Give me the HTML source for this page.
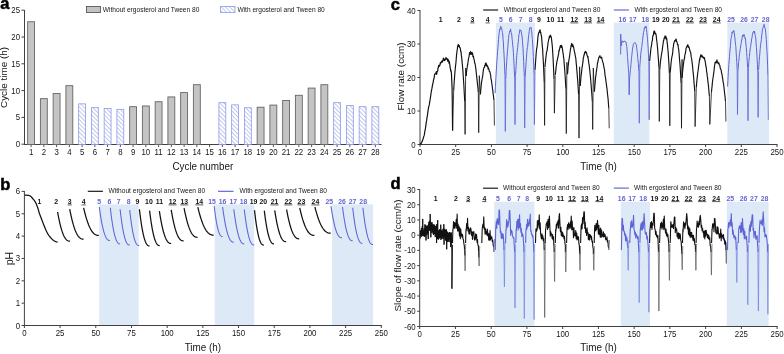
<!DOCTYPE html>
<html><head><meta charset="utf-8"><style>
html,body{margin:0;padding:0;background:#fff;}
svg{display:block;filter:blur(0.3px);}
text{font-family:"Liberation Sans",sans-serif;}
</style></head><body>
<svg width="784" height="354" viewBox="0 0 784 354">
<rect width="784" height="354" fill="#fff"/>
<text x="0.3" y="9.2" font-size="16.5" text-anchor="start" fill="#000" font-weight="bold" stroke="#000" stroke-width="0.5">a</text>
<text x="0.2" y="189.6" font-size="16.5" text-anchor="start" fill="#000" font-weight="bold" stroke="#000" stroke-width="0.5">b</text>
<text x="390.8" y="9.6" font-size="16.5" text-anchor="start" fill="#000" font-weight="bold" stroke="#000" stroke-width="0.5">c</text>
<text x="390.6" y="188.8" font-size="16.5" text-anchor="start" fill="#000" font-weight="bold" stroke="#000" stroke-width="0.5">d</text>
<line x1="24.5" y1="10" x2="24.5" y2="145" stroke="#404040" stroke-width="1"/>
<line x1="24" y1="144.5" x2="381.5" y2="144.5" stroke="#404040" stroke-width="1"/>
<line x1="21.5" y1="144.2" x2="24.5" y2="144.2" stroke="#404040" stroke-width="1"/>
<text transform="translate(20,147.2) scale(0.9,1.0)" font-size="8.7" text-anchor="end" fill="#151515" font-weight="normal" >0</text>
<line x1="21.5" y1="117.4" x2="24.5" y2="117.4" stroke="#404040" stroke-width="1"/>
<text transform="translate(20,120.4) scale(0.9,1.0)" font-size="8.7" text-anchor="end" fill="#151515" font-weight="normal" >5</text>
<line x1="21.5" y1="90.6" x2="24.5" y2="90.6" stroke="#404040" stroke-width="1"/>
<text transform="translate(20,93.6) scale(0.9,1.0)" font-size="8.7" text-anchor="end" fill="#151515" font-weight="normal" >10</text>
<line x1="21.5" y1="63.8" x2="24.5" y2="63.8" stroke="#404040" stroke-width="1"/>
<text transform="translate(20,66.8) scale(0.9,1.0)" font-size="8.7" text-anchor="end" fill="#151515" font-weight="normal" >15</text>
<line x1="21.5" y1="37" x2="24.5" y2="37" stroke="#404040" stroke-width="1"/>
<text transform="translate(20,40) scale(0.9,1.0)" font-size="8.7" text-anchor="end" fill="#151515" font-weight="normal" >20</text>
<line x1="21.5" y1="10.2" x2="24.5" y2="10.2" stroke="#404040" stroke-width="1"/>
<text transform="translate(20,13.2) scale(0.9,1.0)" font-size="8.7" text-anchor="end" fill="#151515" font-weight="normal" >25</text>
<defs><pattern id="hatch" patternUnits="userSpaceOnUse" width="3" height="3" patternTransform="rotate(45)"><rect width="3" height="3" fill="#fff"/><line x1="0" y1="1.5" x2="3" y2="1.5" stroke="#8c98e0" stroke-width="0.55"/></pattern></defs>
<line x1="31.1" y1="144.5" x2="31.1" y2="147.1" stroke="#555" stroke-width="1"/>
<text transform="translate(31.1,155.1) scale(0.9,1.0)" font-size="8.7" text-anchor="middle" fill="#151515" font-weight="normal" >1</text>
<rect x="27.65" y="21.72" width="6.9" height="122.78" fill="#c4c4c4" stroke="#666" stroke-width="0.9"/>
<line x1="43.85" y1="144.5" x2="43.85" y2="147.1" stroke="#555" stroke-width="1"/>
<text transform="translate(43.85,155.1) scale(0.9,1.0)" font-size="8.7" text-anchor="middle" fill="#151515" font-weight="normal" >2</text>
<rect x="40.4" y="98.64" width="6.9" height="45.86" fill="#c4c4c4" stroke="#666" stroke-width="0.9"/>
<line x1="56.6" y1="144.5" x2="56.6" y2="147.1" stroke="#555" stroke-width="1"/>
<text transform="translate(56.6,155.1) scale(0.9,1.0)" font-size="8.7" text-anchor="middle" fill="#151515" font-weight="normal" >3</text>
<rect x="53.15" y="93.54" width="6.9" height="50.96" fill="#c4c4c4" stroke="#666" stroke-width="0.9"/>
<line x1="69.35" y1="144.5" x2="69.35" y2="147.1" stroke="#555" stroke-width="1"/>
<text transform="translate(69.35,155.1) scale(0.9,1.0)" font-size="8.7" text-anchor="middle" fill="#151515" font-weight="normal" >4</text>
<rect x="65.9" y="85.66" width="6.9" height="58.84" fill="#c4c4c4" stroke="#666" stroke-width="0.9"/>
<line x1="82.1" y1="144.5" x2="82.1" y2="147.1" stroke="#555" stroke-width="1"/>
<text transform="translate(82.1,155.1) scale(0.9,1.0)" font-size="8.7" text-anchor="middle" fill="#151515" font-weight="normal" >5</text>
<rect x="78.65" y="103.84" width="6.9" height="40.66" fill="url(#hatch)" stroke="#8e9ae6" stroke-width="0.8"/>
<line x1="94.85" y1="144.5" x2="94.85" y2="147.1" stroke="#555" stroke-width="1"/>
<text transform="translate(94.85,155.1) scale(0.9,1.0)" font-size="8.7" text-anchor="middle" fill="#151515" font-weight="normal" >6</text>
<rect x="91.4" y="107.64" width="6.9" height="36.86" fill="url(#hatch)" stroke="#8e9ae6" stroke-width="0.8"/>
<line x1="107.6" y1="144.5" x2="107.6" y2="147.1" stroke="#555" stroke-width="1"/>
<text transform="translate(107.6,155.1) scale(0.9,1.0)" font-size="8.7" text-anchor="middle" fill="#151515" font-weight="normal" >7</text>
<rect x="104.15" y="108.55" width="6.9" height="35.95" fill="url(#hatch)" stroke="#8e9ae6" stroke-width="0.8"/>
<line x1="120.35" y1="144.5" x2="120.35" y2="147.1" stroke="#555" stroke-width="1"/>
<text transform="translate(120.35,155.1) scale(0.9,1.0)" font-size="8.7" text-anchor="middle" fill="#151515" font-weight="normal" >8</text>
<rect x="116.9" y="109.36" width="6.9" height="35.14" fill="url(#hatch)" stroke="#8e9ae6" stroke-width="0.8"/>
<line x1="133.1" y1="144.5" x2="133.1" y2="147.1" stroke="#555" stroke-width="1"/>
<text transform="translate(133.1,155.1) scale(0.9,1.0)" font-size="8.7" text-anchor="middle" fill="#151515" font-weight="normal" >9</text>
<rect x="129.65" y="106.68" width="6.9" height="37.82" fill="#c4c4c4" stroke="#666" stroke-width="0.9"/>
<line x1="145.85" y1="144.5" x2="145.85" y2="147.1" stroke="#555" stroke-width="1"/>
<text transform="translate(145.85,155.1) scale(0.9,1.0)" font-size="8.7" text-anchor="middle" fill="#151515" font-weight="normal" >10</text>
<rect x="142.4" y="105.98" width="6.9" height="38.52" fill="#c4c4c4" stroke="#666" stroke-width="0.9"/>
<line x1="158.6" y1="144.5" x2="158.6" y2="147.1" stroke="#555" stroke-width="1"/>
<text transform="translate(158.6,155.1) scale(0.9,1.0)" font-size="8.7" text-anchor="middle" fill="#151515" font-weight="normal" >11</text>
<rect x="155.15" y="101.74" width="6.9" height="42.76" fill="#c4c4c4" stroke="#666" stroke-width="0.9"/>
<line x1="171.35" y1="144.5" x2="171.35" y2="147.1" stroke="#555" stroke-width="1"/>
<text transform="translate(171.35,155.1) scale(0.9,1.0)" font-size="8.7" text-anchor="middle" fill="#151515" font-weight="normal" >12</text>
<rect x="167.9" y="96.92" width="6.9" height="47.58" fill="#c4c4c4" stroke="#666" stroke-width="0.9"/>
<line x1="184.1" y1="144.5" x2="184.1" y2="147.1" stroke="#555" stroke-width="1"/>
<text transform="translate(184.1,155.1) scale(0.9,1.0)" font-size="8.7" text-anchor="middle" fill="#151515" font-weight="normal" >13</text>
<rect x="180.65" y="92.58" width="6.9" height="51.92" fill="#c4c4c4" stroke="#666" stroke-width="0.9"/>
<line x1="196.85" y1="144.5" x2="196.85" y2="147.1" stroke="#555" stroke-width="1"/>
<text transform="translate(196.85,155.1) scale(0.9,1.0)" font-size="8.7" text-anchor="middle" fill="#151515" font-weight="normal" >14</text>
<rect x="193.4" y="84.7" width="6.9" height="59.8" fill="#c4c4c4" stroke="#666" stroke-width="0.9"/>
<line x1="209.6" y1="144.5" x2="209.6" y2="147.1" stroke="#555" stroke-width="1"/>
<text transform="translate(209.6,155.1) scale(0.9,1.0)" font-size="8.7" text-anchor="middle" fill="#151515" font-weight="normal" >15</text>
<line x1="222.35" y1="144.5" x2="222.35" y2="147.1" stroke="#555" stroke-width="1"/>
<text transform="translate(222.35,155.1) scale(0.9,1.0)" font-size="8.7" text-anchor="middle" fill="#151515" font-weight="normal" >16</text>
<rect x="218.9" y="102.66" width="6.9" height="41.84" fill="url(#hatch)" stroke="#8e9ae6" stroke-width="0.8"/>
<line x1="235.1" y1="144.5" x2="235.1" y2="147.1" stroke="#555" stroke-width="1"/>
<text transform="translate(235.1,155.1) scale(0.9,1.0)" font-size="8.7" text-anchor="middle" fill="#151515" font-weight="normal" >17</text>
<rect x="231.65" y="104.85" width="6.9" height="39.65" fill="url(#hatch)" stroke="#8e9ae6" stroke-width="0.8"/>
<line x1="247.85" y1="144.5" x2="247.85" y2="147.1" stroke="#555" stroke-width="1"/>
<text transform="translate(247.85,155.1) scale(0.9,1.0)" font-size="8.7" text-anchor="middle" fill="#151515" font-weight="normal" >18</text>
<rect x="244.4" y="107.75" width="6.9" height="36.75" fill="url(#hatch)" stroke="#8e9ae6" stroke-width="0.8"/>
<line x1="260.6" y1="144.5" x2="260.6" y2="147.1" stroke="#555" stroke-width="1"/>
<text transform="translate(260.6,155.1) scale(0.9,1.0)" font-size="8.7" text-anchor="middle" fill="#151515" font-weight="normal" >19</text>
<rect x="257.15" y="107.21" width="6.9" height="37.29" fill="#c4c4c4" stroke="#666" stroke-width="0.9"/>
<line x1="273.35" y1="144.5" x2="273.35" y2="147.1" stroke="#555" stroke-width="1"/>
<text transform="translate(273.35,155.1) scale(0.9,1.0)" font-size="8.7" text-anchor="middle" fill="#151515" font-weight="normal" >20</text>
<rect x="269.9" y="105.07" width="6.9" height="39.43" fill="#c4c4c4" stroke="#666" stroke-width="0.9"/>
<line x1="286.1" y1="144.5" x2="286.1" y2="147.1" stroke="#555" stroke-width="1"/>
<text transform="translate(286.1,155.1) scale(0.9,1.0)" font-size="8.7" text-anchor="middle" fill="#151515" font-weight="normal" >21</text>
<rect x="282.65" y="100.51" width="6.9" height="43.99" fill="#c4c4c4" stroke="#666" stroke-width="0.9"/>
<line x1="298.85" y1="144.5" x2="298.85" y2="147.1" stroke="#555" stroke-width="1"/>
<text transform="translate(298.85,155.1) scale(0.9,1.0)" font-size="8.7" text-anchor="middle" fill="#151515" font-weight="normal" >22</text>
<rect x="295.4" y="95.31" width="6.9" height="49.19" fill="#c4c4c4" stroke="#666" stroke-width="0.9"/>
<line x1="311.6" y1="144.5" x2="311.6" y2="147.1" stroke="#555" stroke-width="1"/>
<text transform="translate(311.6,155.1) scale(0.9,1.0)" font-size="8.7" text-anchor="middle" fill="#151515" font-weight="normal" >23</text>
<rect x="308.15" y="88.08" width="6.9" height="56.42" fill="#c4c4c4" stroke="#666" stroke-width="0.9"/>
<line x1="324.35" y1="144.5" x2="324.35" y2="147.1" stroke="#555" stroke-width="1"/>
<text transform="translate(324.35,155.1) scale(0.9,1.0)" font-size="8.7" text-anchor="middle" fill="#151515" font-weight="normal" >24</text>
<rect x="320.9" y="84.7" width="6.9" height="59.8" fill="#c4c4c4" stroke="#666" stroke-width="0.9"/>
<line x1="337.1" y1="144.5" x2="337.1" y2="147.1" stroke="#555" stroke-width="1"/>
<text transform="translate(337.1,155.1) scale(0.9,1.0)" font-size="8.7" text-anchor="middle" fill="#151515" font-weight="normal" >25</text>
<rect x="333.65" y="102.66" width="6.9" height="41.84" fill="url(#hatch)" stroke="#8e9ae6" stroke-width="0.8"/>
<line x1="349.85" y1="144.5" x2="349.85" y2="147.1" stroke="#555" stroke-width="1"/>
<text transform="translate(349.85,155.1) scale(0.9,1.0)" font-size="8.7" text-anchor="middle" fill="#151515" font-weight="normal" >26</text>
<rect x="346.4" y="105.6" width="6.9" height="38.9" fill="url(#hatch)" stroke="#8e9ae6" stroke-width="0.8"/>
<line x1="362.6" y1="144.5" x2="362.6" y2="147.1" stroke="#555" stroke-width="1"/>
<text transform="translate(362.6,155.1) scale(0.9,1.0)" font-size="8.7" text-anchor="middle" fill="#151515" font-weight="normal" >27</text>
<rect x="359.15" y="106.68" width="6.9" height="37.82" fill="url(#hatch)" stroke="#8e9ae6" stroke-width="0.8"/>
<line x1="375.35" y1="144.5" x2="375.35" y2="147.1" stroke="#555" stroke-width="1"/>
<text transform="translate(375.35,155.1) scale(0.9,1.0)" font-size="8.7" text-anchor="middle" fill="#151515" font-weight="normal" >28</text>
<rect x="371.9" y="106.68" width="6.9" height="37.82" fill="url(#hatch)" stroke="#8e9ae6" stroke-width="0.8"/>
<text transform="translate(202.9,169.8) scale(1.0,1.12)" font-size="9.9" text-anchor="middle" fill="#151515" font-weight="normal" >Cycle number</text>
<text transform="translate(6.9,77.5) rotate(-90)" font-size="9.9" text-anchor="middle" fill="#151515">Cycle time (h)</text>
<rect x="86.5" y="6.5" width="14" height="6" fill="#c3c3c3" stroke="#5a5a5a" stroke-width="0.9"/>
<text transform="translate(102.8,11.9) scale(1.0,1.1)" font-size="6.6" text-anchor="start" fill="#151515" font-weight="normal" >Without ergosterol and Tween 80</text>
<rect x="220.5" y="6.5" width="14.5" height="6" fill="url(#hatch)" stroke="#98a4ec" stroke-width="0.9"/>
<text transform="translate(237.4,11.9) scale(1.0,1.1)" font-size="6.6" text-anchor="start" fill="#151515" font-weight="normal" >With ergosterol and Tween 80</text>
<rect x="99.2" y="204.4" width="39.5" height="121.1" fill="#dde9f6"/>
<rect x="214.7" y="204.4" width="39.5" height="121.1" fill="#dde9f6"/>
<rect x="332.1" y="204.4" width="41" height="121.1" fill="#dde9f6"/>
<line x1="24.4" y1="191" x2="24.4" y2="326" stroke="#404040" stroke-width="1"/>
<line x1="21.6" y1="325.5" x2="24.4" y2="325.5" stroke="#404040" stroke-width="1"/>
<text transform="translate(20,328.5) scale(0.9,1.0)" font-size="8.7" text-anchor="end" fill="#151515" font-weight="normal" >0</text>
<line x1="21.6" y1="303.15" x2="24.4" y2="303.15" stroke="#404040" stroke-width="1"/>
<text transform="translate(20,306.15) scale(0.9,1.0)" font-size="8.7" text-anchor="end" fill="#151515" font-weight="normal" >1</text>
<line x1="21.6" y1="280.8" x2="24.4" y2="280.8" stroke="#404040" stroke-width="1"/>
<text transform="translate(20,283.8) scale(0.9,1.0)" font-size="8.7" text-anchor="end" fill="#151515" font-weight="normal" >2</text>
<line x1="21.6" y1="258.45" x2="24.4" y2="258.45" stroke="#404040" stroke-width="1"/>
<text transform="translate(20,261.45) scale(0.9,1.0)" font-size="8.7" text-anchor="end" fill="#151515" font-weight="normal" >3</text>
<line x1="21.6" y1="236.1" x2="24.4" y2="236.1" stroke="#404040" stroke-width="1"/>
<text transform="translate(20,239.1) scale(0.9,1.0)" font-size="8.7" text-anchor="end" fill="#151515" font-weight="normal" >4</text>
<line x1="21.6" y1="213.75" x2="24.4" y2="213.75" stroke="#404040" stroke-width="1"/>
<text transform="translate(20,216.75) scale(0.9,1.0)" font-size="8.7" text-anchor="end" fill="#151515" font-weight="normal" >5</text>
<line x1="21.6" y1="191.4" x2="24.4" y2="191.4" stroke="#404040" stroke-width="1"/>
<text transform="translate(20,194.4) scale(0.9,1.0)" font-size="8.7" text-anchor="end" fill="#151515" font-weight="normal" >6</text>
<line x1="23.9" y1="325.5" x2="381.8" y2="325.5" stroke="#404040" stroke-width="1"/>
<line x1="24.4" y1="325.5" x2="24.4" y2="328" stroke="#404040" stroke-width="1"/>
<text transform="translate(24.4,336.2) scale(0.9,1.0)" font-size="8.7" text-anchor="middle" fill="#151515" font-weight="normal" >0</text>
<line x1="60.09" y1="325.5" x2="60.09" y2="328" stroke="#404040" stroke-width="1"/>
<text transform="translate(60.09,336.2) scale(0.9,1.0)" font-size="8.7" text-anchor="middle" fill="#151515" font-weight="normal" >25</text>
<line x1="95.78" y1="325.5" x2="95.78" y2="328" stroke="#404040" stroke-width="1"/>
<text transform="translate(95.78,336.2) scale(0.9,1.0)" font-size="8.7" text-anchor="middle" fill="#151515" font-weight="normal" >50</text>
<line x1="131.47" y1="325.5" x2="131.47" y2="328" stroke="#404040" stroke-width="1"/>
<text transform="translate(131.47,336.2) scale(0.9,1.0)" font-size="8.7" text-anchor="middle" fill="#151515" font-weight="normal" >75</text>
<line x1="167.16" y1="325.5" x2="167.16" y2="328" stroke="#404040" stroke-width="1"/>
<text transform="translate(167.16,336.2) scale(0.9,1.0)" font-size="8.7" text-anchor="middle" fill="#151515" font-weight="normal" >100</text>
<line x1="202.85" y1="325.5" x2="202.85" y2="328" stroke="#404040" stroke-width="1"/>
<text transform="translate(202.85,336.2) scale(0.9,1.0)" font-size="8.7" text-anchor="middle" fill="#151515" font-weight="normal" >125</text>
<line x1="238.54" y1="325.5" x2="238.54" y2="328" stroke="#404040" stroke-width="1"/>
<text transform="translate(238.54,336.2) scale(0.9,1.0)" font-size="8.7" text-anchor="middle" fill="#151515" font-weight="normal" >150</text>
<line x1="274.23" y1="325.5" x2="274.23" y2="328" stroke="#404040" stroke-width="1"/>
<text transform="translate(274.23,336.2) scale(0.9,1.0)" font-size="8.7" text-anchor="middle" fill="#151515" font-weight="normal" >175</text>
<line x1="309.92" y1="325.5" x2="309.92" y2="328" stroke="#404040" stroke-width="1"/>
<text transform="translate(309.92,336.2) scale(0.9,1.0)" font-size="8.7" text-anchor="middle" fill="#151515" font-weight="normal" >200</text>
<line x1="345.61" y1="325.5" x2="345.61" y2="328" stroke="#404040" stroke-width="1"/>
<text transform="translate(345.61,336.2) scale(0.9,1.0)" font-size="8.7" text-anchor="middle" fill="#151515" font-weight="normal" >225</text>
<line x1="381.3" y1="325.5" x2="381.3" y2="328" stroke="#404040" stroke-width="1"/>
<text transform="translate(381.3,336.2) scale(0.9,1.0)" font-size="8.7" text-anchor="middle" fill="#151515" font-weight="normal" >250</text>
<text transform="translate(202.9,350.7) scale(1.0,1.12)" font-size="9.9" text-anchor="middle" fill="#151515" font-weight="normal" >Time (h)</text>
<text transform="translate(12.6,258.6) rotate(-90)" font-size="10.6" text-anchor="middle" fill="#151515">pH</text>
<line x1="87.8" y1="191.3" x2="102.9" y2="191.3" stroke="#111" stroke-width="1.15"/>
<text transform="translate(108.6,193.3) scale(1.0,1.1)" font-size="6.6" text-anchor="start" fill="#151515" font-weight="normal" >Without ergosterol and Tween 80</text>
<line x1="218" y1="191.3" x2="233.6" y2="191.3" stroke="#5c64d6" stroke-width="1.15"/>
<text transform="translate(239.5,193.3) scale(1.0,1.1)" font-size="6.6" text-anchor="start" fill="#151515" font-weight="normal" >With ergosterol and Tween 80</text>
<text x="39.4" y="204.1" font-size="6.9" text-anchor="middle" fill="#111" font-weight="bold" >1</text>
<text x="56.2" y="204.1" font-size="6.9" text-anchor="middle" fill="#111" font-weight="bold" >2</text>
<text x="69.7" y="204.1" font-size="6.9" text-anchor="middle" fill="#111" font-weight="bold" >3</text>
<line x1="67.6" y1="204.9" x2="71.8" y2="204.9" stroke="#333" stroke-width="0.8"/>
<text x="83.7" y="204.1" font-size="6.9" text-anchor="middle" fill="#111" font-weight="bold" >4</text>
<line x1="81.6" y1="204.9" x2="85.8" y2="204.9" stroke="#333" stroke-width="0.8"/>
<text x="99.2" y="204.1" font-size="6.9" text-anchor="middle" fill="#6464d4" font-weight="bold" >5</text>
<text x="109.4" y="204.1" font-size="6.9" text-anchor="middle" fill="#6464d4" font-weight="bold" >6</text>
<text x="118.7" y="204.1" font-size="6.9" text-anchor="middle" fill="#6464d4" font-weight="bold" >7</text>
<text x="128.6" y="204.1" font-size="6.9" text-anchor="middle" fill="#6464d4" font-weight="bold" >8</text>
<text x="137.4" y="204.1" font-size="6.9" text-anchor="middle" fill="#111" font-weight="bold" >9</text>
<text x="148.9" y="204.1" font-size="6.9" text-anchor="middle" fill="#111" font-weight="bold" >10</text>
<text x="159.4" y="204.1" font-size="6.9" text-anchor="middle" fill="#111" font-weight="bold" >11</text>
<text x="172.6" y="204.1" font-size="6.9" text-anchor="middle" fill="#111" font-weight="bold" >12</text>
<line x1="168.55" y1="204.9" x2="176.65" y2="204.9" stroke="#333" stroke-width="0.8"/>
<text x="184.3" y="204.1" font-size="6.9" text-anchor="middle" fill="#111" font-weight="bold" >13</text>
<line x1="180.25" y1="204.9" x2="188.35" y2="204.9" stroke="#333" stroke-width="0.8"/>
<text x="199.3" y="204.1" font-size="6.9" text-anchor="middle" fill="#111" font-weight="bold" >14</text>
<line x1="195.25" y1="204.9" x2="203.35" y2="204.9" stroke="#333" stroke-width="0.8"/>
<text x="212" y="204.1" font-size="6.9" text-anchor="middle" fill="#6464d4" font-weight="bold" >15</text>
<text x="222.6" y="204.1" font-size="6.9" text-anchor="middle" fill="#6464d4" font-weight="bold" >16</text>
<text x="233.3" y="204.1" font-size="6.9" text-anchor="middle" fill="#6464d4" font-weight="bold" >17</text>
<text x="243.5" y="204.1" font-size="6.9" text-anchor="middle" fill="#6464d4" font-weight="bold" >18</text>
<text x="253.6" y="204.1" font-size="6.9" text-anchor="middle" fill="#111" font-weight="bold" >19</text>
<text x="263.3" y="204.1" font-size="6.9" text-anchor="middle" fill="#111" font-weight="bold" >20</text>
<text x="274.5" y="204.1" font-size="6.9" text-anchor="middle" fill="#111" font-weight="bold" >21</text>
<line x1="270.45" y1="204.9" x2="278.55" y2="204.9" stroke="#333" stroke-width="0.8"/>
<text x="288.3" y="204.1" font-size="6.9" text-anchor="middle" fill="#111" font-weight="bold" >22</text>
<line x1="284.25" y1="204.9" x2="292.35" y2="204.9" stroke="#333" stroke-width="0.8"/>
<text x="301.4" y="204.1" font-size="6.9" text-anchor="middle" fill="#111" font-weight="bold" >23</text>
<line x1="297.35" y1="204.9" x2="305.45" y2="204.9" stroke="#333" stroke-width="0.8"/>
<text x="315.4" y="204.1" font-size="6.9" text-anchor="middle" fill="#111" font-weight="bold" >24</text>
<line x1="311.35" y1="204.9" x2="319.45" y2="204.9" stroke="#333" stroke-width="0.8"/>
<text x="329.3" y="204.1" font-size="6.9" text-anchor="middle" fill="#6464d4" font-weight="bold" >25</text>
<text x="342" y="204.1" font-size="6.9" text-anchor="middle" fill="#6464d4" font-weight="bold" >26</text>
<text x="352.5" y="204.1" font-size="6.9" text-anchor="middle" fill="#6464d4" font-weight="bold" >27</text>
<text x="363.2" y="204.1" font-size="6.9" text-anchor="middle" fill="#6464d4" font-weight="bold" >28</text>
<path d="M24.7,195.1 L25.11,195.11 L25.71,195.12 L26.37,195.15 L27,195.2 L27.59,195.26 L28.19,195.34 L28.77,195.45 L29.3,195.6 L29.77,195.79 L30.19,196.01 L30.59,196.27 L31,196.6 L31.42,197 L31.84,197.47 L32.27,197.98 L32.7,198.5 L33.15,199.04 L33.61,199.59 L34.06,200.18 L34.5,200.8 L34.91,201.43 L35.31,202.07 L35.7,202.78 L36.1,203.6 L36.52,204.56 L36.94,205.62 L37.37,206.77 L37.8,208 L38.22,209.34 L38.62,210.78 L39.05,212.26 L39.5,213.7 L40,215.09 L40.53,216.46 L41.07,217.83 L41.6,219.2 L42.12,220.58 L42.65,221.97 L43.18,223.35 L43.7,224.7 L44.22,226.02 L44.74,227.32 L45.27,228.59 L45.8,229.8 L46.34,230.95 L46.87,232.06 L47.43,233.11 L48,234.1 L48.6,235.03 L49.23,235.91 L49.87,236.73 L50.5,237.5 L51.13,238.21 L51.76,238.88 L52.39,239.47 L53,240 L53.59,240.44 L54.16,240.81 L54.73,241.12 L55.3,241.4 L55.93,241.66 L56.59,241.89 L57.19,242.07 L57.6,242.2" fill="none" stroke="#111" stroke-width="1.25" stroke-linejoin="round" />
<path d="M57.6,212 L58.12,214.84 L58.63,217.5 L59.15,220.01 L59.67,222.35 L60.18,224.53 L60.7,226.56 L61.22,228.44 L61.73,230.17 L62.25,231.75 L62.77,233.19 L63.28,234.5 L63.8,235.67 L64.32,236.71 L64.83,237.63 L65.35,238.43 L65.87,239.11 L66.38,239.68 L66.9,240.15 L67.42,240.52 L67.93,240.8 L68.45,241 L68.97,241.12 L69.48,241.19 L70,241.2" fill="none" stroke="#111" stroke-width="1.25" stroke-linejoin="round" />
<path d="M69.7,209.2 L70.28,212.11 L70.86,214.85 L71.44,217.43 L72.02,219.83 L72.6,222.08 L73.17,224.16 L73.75,226.09 L74.33,227.86 L74.91,229.49 L75.49,230.97 L76.07,232.31 L76.65,233.52 L77.23,234.59 L77.81,235.53 L78.39,236.35 L78.97,237.05 L79.55,237.64 L80.12,238.12 L80.7,238.5 L81.28,238.79 L81.86,239 L82.44,239.12 L83.02,239.19 L83.6,239.2" fill="none" stroke="#111" stroke-width="1.25" stroke-linejoin="round" />
<path d="M83.6,207.8 L84.23,210.48 L84.87,213 L85.5,215.37 L86.13,217.58 L86.77,219.65 L87.4,221.56 L88.03,223.34 L88.67,224.97 L89.3,226.47 L89.93,227.83 L90.57,229.06 L91.2,230.17 L91.83,231.16 L92.47,232.02 L93.1,232.78 L93.73,233.42 L94.37,233.97 L95,234.41 L95.63,234.76 L96.27,235.03 L96.9,235.21 L97.53,235.33 L98.17,235.39 L98.8,235.4" fill="none" stroke="#111" stroke-width="1.25" stroke-linejoin="round" />
<path d="M99.3,207 L99.74,210.25 L100.18,213.31 L100.62,216.19 L101.07,218.87 L101.51,221.38 L101.95,223.7 L102.39,225.86 L102.83,227.84 L103.28,229.66 L103.72,231.31 L104.16,232.81 L104.6,234.15 L105.04,235.35 L105.48,236.4 L105.92,237.32 L106.37,238.1 L106.81,238.76 L107.25,239.3 L107.69,239.72 L108.13,240.05 L108.58,240.27 L109.02,240.41 L109.46,240.48 L109.9,240.5" fill="none" stroke="#5c64d6" stroke-width="1.05" stroke-linejoin="round" />
<path d="M110.3,207.8 L110.71,211.31 L111.12,214.6 L111.52,217.7 L111.93,220.59 L112.34,223.29 L112.75,225.8 L113.16,228.12 L113.57,230.26 L113.97,232.22 L114.38,234 L114.79,235.61 L115.2,237.06 L115.61,238.35 L116.02,239.48 L116.42,240.47 L116.83,241.32 L117.24,242.02 L117.65,242.6 L118.06,243.06 L118.47,243.41 L118.88,243.65 L119.28,243.81 L119.69,243.88 L120.1,243.9" fill="none" stroke="#5c64d6" stroke-width="1.05" stroke-linejoin="round" />
<path d="M120.1,209.2 L120.5,212.69 L120.9,215.97 L121.3,219.04 L121.7,221.92 L122.1,224.61 L122.5,227.1 L122.9,229.41 L123.3,231.53 L123.7,233.48 L124.1,235.25 L124.5,236.86 L124.9,238.3 L125.3,239.58 L125.7,240.71 L126.1,241.69 L126.5,242.53 L126.9,243.23 L127.3,243.81 L127.7,244.27 L128.1,244.61 L128.5,244.86 L128.9,245.01 L129.3,245.08 L129.7,245.1" fill="none" stroke="#5c64d6" stroke-width="1.05" stroke-linejoin="round" />
<path d="M129.7,210 L130.09,213.46 L130.48,216.71 L130.88,219.76 L131.27,222.62 L131.66,225.28 L132.05,227.75 L132.44,230.04 L132.83,232.15 L133.22,234.08 L133.62,235.84 L134.01,237.43 L134.4,238.86 L134.79,240.13 L135.18,241.25 L135.57,242.22 L135.97,243.05 L136.36,243.75 L136.75,244.32 L137.14,244.77 L137.53,245.12 L137.92,245.36 L138.32,245.51 L138.71,245.58 L139.1,245.6" fill="none" stroke="#5c64d6" stroke-width="1.05" stroke-linejoin="round" />
<path d="M139.4,209.2 L139.83,212.77 L140.25,216.14 L140.68,219.29 L141.1,222.24 L141.53,224.99 L141.95,227.55 L142.38,229.92 L142.8,232.09 L143.22,234.09 L143.65,235.91 L144.07,237.55 L144.5,239.03 L144.93,240.34 L145.35,241.5 L145.78,242.5 L146.2,243.37 L146.62,244.09 L147.05,244.68 L147.47,245.15 L147.9,245.5 L148.32,245.75 L148.75,245.91 L149.17,245.98 L149.6,246" fill="none" stroke="#111" stroke-width="1.25" stroke-linejoin="round" />
<path d="M149.6,210.7 L150.02,214.09 L150.44,217.28 L150.86,220.27 L151.28,223.07 L151.7,225.68 L152.12,228.1 L152.55,230.35 L152.97,232.41 L153.39,234.3 L153.81,236.03 L154.23,237.59 L154.65,238.99 L155.07,240.23 L155.49,241.33 L155.91,242.28 L156.33,243.1 L156.75,243.79 L157.17,244.35 L157.6,244.79 L158.02,245.13 L158.44,245.36 L158.86,245.51 L159.28,245.58 L159.7,245.6" fill="none" stroke="#111" stroke-width="1.25" stroke-linejoin="round" />
<path d="M159.4,211.2 L159.89,214.34 L160.38,217.29 L160.88,220.06 L161.37,222.65 L161.86,225.06 L162.35,227.31 L162.84,229.38 L163.33,231.29 L163.82,233.05 L164.32,234.64 L164.81,236.08 L165.3,237.38 L165.79,238.53 L166.28,239.55 L166.78,240.43 L167.27,241.19 L167.76,241.82 L168.25,242.34 L168.74,242.75 L169.23,243.06 L169.72,243.28 L170.22,243.42 L170.71,243.48 L171.2,243.5" fill="none" stroke="#111" stroke-width="1.25" stroke-linejoin="round" />
<path d="M171.2,209.8 L171.72,212.82 L172.23,215.66 L172.75,218.33 L173.27,220.82 L173.78,223.15 L174.3,225.31 L174.82,227.31 L175.33,229.15 L175.85,230.83 L176.37,232.37 L176.88,233.76 L177.4,235.01 L177.92,236.12 L178.43,237.1 L178.95,237.95 L179.47,238.67 L179.98,239.28 L180.5,239.78 L181.02,240.18 L181.53,240.48 L182.05,240.69 L182.57,240.82 L183.08,240.88 L183.6,240.9" fill="none" stroke="#111" stroke-width="1.25" stroke-linejoin="round" />
<path d="M184.1,208.2 L184.66,211.03 L185.22,213.68 L185.79,216.18 L186.35,218.51 L186.91,220.69 L187.47,222.71 L188.04,224.58 L188.6,226.3 L189.16,227.88 L189.72,229.32 L190.29,230.62 L190.85,231.79 L191.41,232.83 L191.97,233.74 L192.54,234.54 L193.1,235.22 L193.66,235.79 L194.22,236.26 L194.79,236.63 L195.35,236.91 L195.91,237.1 L196.47,237.23 L197.04,237.29 L197.6,237.3" fill="none" stroke="#111" stroke-width="1.25" stroke-linejoin="round" />
<path d="M197.8,207.1 L198.46,209.82 L199.12,212.38 L199.79,214.78 L200.45,217.02 L201.11,219.12 L201.78,221.06 L202.44,222.86 L203.1,224.52 L203.76,226.04 L204.43,227.42 L205.09,228.67 L205.75,229.79 L206.41,230.79 L207.07,231.68 L207.74,232.44 L208.4,233.1 L209.06,233.64 L209.72,234.09 L210.39,234.45 L211.05,234.72 L211.71,234.91 L212.38,235.03 L213.04,235.09 L213.7,235.1" fill="none" stroke="#111" stroke-width="1.25" stroke-linejoin="round" />
<path d="M214.2,206.1 L214.55,209.06 L214.9,211.85 L215.25,214.46 L215.6,216.91 L215.95,219.19 L216.3,221.31 L216.65,223.27 L217,225.07 L217.35,226.73 L217.7,228.23 L218.05,229.6 L218.4,230.82 L218.75,231.91 L219.1,232.87 L219.45,233.7 L219.8,234.42 L220.15,235.02 L220.5,235.51 L220.85,235.89 L221.2,236.19 L221.55,236.39 L221.9,236.52 L222.25,236.59 L222.6,236.6" fill="none" stroke="#5c64d6" stroke-width="1.05" stroke-linejoin="round" />
<path d="M222.6,207 L223.07,210.42 L223.53,213.63 L224,216.65 L224.47,219.47 L224.93,222.11 L225.4,224.55 L225.87,226.81 L226.33,228.9 L226.8,230.81 L227.27,232.55 L227.73,234.12 L228.2,235.53 L228.67,236.79 L229.13,237.89 L229.6,238.86 L230.07,239.68 L230.53,240.37 L231,240.94 L231.47,241.38 L231.93,241.72 L232.4,241.96 L232.87,242.11 L233.33,242.18 L233.8,242.2" fill="none" stroke="#5c64d6" stroke-width="1.05" stroke-linejoin="round" />
<path d="M233.8,209.2 L234.24,212.57 L234.68,215.74 L235.11,218.71 L235.55,221.5 L235.99,224.09 L236.43,226.5 L236.86,228.73 L237.3,230.79 L237.74,232.67 L238.18,234.38 L238.61,235.93 L239.05,237.33 L239.49,238.56 L239.93,239.66 L240.36,240.6 L240.8,241.42 L241.24,242.1 L241.68,242.65 L242.11,243.1 L242.55,243.43 L242.99,243.66 L243.43,243.81 L243.86,243.88 L244.3,243.9" fill="none" stroke="#5c64d6" stroke-width="1.05" stroke-linejoin="round" />
<path d="M244.3,209.5 L244.71,212.96 L245.12,216.21 L245.54,219.26 L245.95,222.12 L246.36,224.78 L246.78,227.25 L247.19,229.54 L247.6,231.65 L248.01,233.58 L248.43,235.34 L248.84,236.93 L249.25,238.36 L249.66,239.63 L250.07,240.75 L250.49,241.72 L250.9,242.55 L251.31,243.25 L251.72,243.82 L252.14,244.27 L252.55,244.62 L252.96,244.86 L253.38,245.01 L253.79,245.08 L254.2,245.1" fill="none" stroke="#5c64d6" stroke-width="1.05" stroke-linejoin="round" />
<path d="M254.5,210.3 L254.89,213.68 L255.28,216.86 L255.66,219.84 L256.05,222.63 L256.44,225.24 L256.82,227.65 L257.21,229.89 L257.6,231.95 L257.99,233.84 L258.38,235.55 L258.76,237.11 L259.15,238.51 L259.54,239.75 L259.93,240.84 L260.31,241.79 L260.7,242.61 L261.09,243.29 L261.48,243.85 L261.86,244.29 L262.25,244.63 L262.64,244.86 L263.03,245.01 L263.41,245.08 L263.8,245.1" fill="none" stroke="#111" stroke-width="1.25" stroke-linejoin="round" />
<path d="M264.3,210.7 L264.7,213.92 L265.11,216.96 L265.51,219.8 L265.92,222.47 L266.32,224.95 L266.73,227.25 L267.13,229.39 L267.53,231.35 L267.94,233.15 L268.34,234.79 L268.75,236.28 L269.15,237.61 L269.55,238.8 L269.96,239.84 L270.36,240.75 L270.77,241.52 L271.17,242.17 L271.57,242.71 L271.98,243.13 L272.38,243.45 L272.79,243.67 L273.19,243.81 L273.6,243.88 L274,243.9" fill="none" stroke="#111" stroke-width="1.25" stroke-linejoin="round" />
<path d="M274.7,210.3 L275.18,213.35 L275.65,216.22 L276.12,218.91 L276.6,221.43 L277.07,223.78 L277.55,225.96 L278.02,227.98 L278.5,229.83 L278.98,231.54 L279.45,233.09 L279.93,234.49 L280.4,235.75 L280.88,236.87 L281.35,237.86 L281.82,238.72 L282.3,239.45 L282.78,240.07 L283.25,240.57 L283.73,240.97 L284.2,241.27 L284.68,241.49 L285.15,241.62 L285.62,241.68 L286.1,241.7" fill="none" stroke="#111" stroke-width="1.25" stroke-linejoin="round" />
<path d="M286.6,209.5 L287.12,212.35 L287.65,215.02 L288.18,217.53 L288.7,219.88 L289.23,222.07 L289.75,224.11 L290.28,225.99 L290.8,227.73 L291.32,229.32 L291.85,230.76 L292.38,232.07 L292.9,233.25 L293.43,234.29 L293.95,235.22 L294.48,236.02 L295,236.7 L295.52,237.28 L296.05,237.75 L296.57,238.12 L297.1,238.4 L297.62,238.6 L298.15,238.72 L298.68,238.79 L299.2,238.8" fill="none" stroke="#111" stroke-width="1.25" stroke-linejoin="round" />
<path d="M299.7,207.8 L300.31,210.48 L300.93,213 L301.54,215.37 L302.15,217.58 L302.76,219.65 L303.38,221.56 L303.99,223.34 L304.6,224.97 L305.21,226.47 L305.82,227.83 L306.44,229.06 L307.05,230.17 L307.66,231.16 L308.27,232.02 L308.89,232.78 L309.5,233.42 L310.11,233.97 L310.72,234.41 L311.34,234.76 L311.95,235.03 L312.56,235.21 L313.17,235.33 L313.79,235.39 L314.4,235.4" fill="none" stroke="#111" stroke-width="1.25" stroke-linejoin="round" />
<path d="M314.9,207 L315.56,209.54 L316.22,211.94 L316.88,214.18 L317.53,216.29 L318.19,218.24 L318.85,220.06 L319.51,221.75 L320.17,223.3 L320.82,224.72 L321.48,226.01 L322.14,227.18 L322.8,228.24 L323.46,229.17 L324.12,230 L324.77,230.71 L325.43,231.32 L326.09,231.84 L326.75,232.26 L327.41,232.59 L328.07,232.84 L328.72,233.02 L329.38,233.13 L330.04,233.19 L330.7,233.2" fill="none" stroke="#111" stroke-width="1.25" stroke-linejoin="round" />
<path d="M331,206.1 L331.46,209.18 L331.92,212.07 L332.38,214.79 L332.83,217.33 L333.29,219.7 L333.75,221.91 L334.21,223.94 L334.67,225.82 L335.12,227.54 L335.58,229.11 L336.04,230.52 L336.5,231.79 L336.96,232.93 L337.42,233.92 L337.88,234.79 L338.33,235.53 L338.79,236.15 L339.25,236.66 L339.71,237.07 L340.17,237.37 L340.62,237.58 L341.08,237.72 L341.54,237.78 L342,237.8" fill="none" stroke="#5c64d6" stroke-width="1.05" stroke-linejoin="round" />
<path d="M342.5,207 L342.93,210.28 L343.35,213.37 L343.77,216.27 L344.2,218.98 L344.62,221.51 L345.05,223.85 L345.48,226.03 L345.9,228.03 L346.32,229.86 L346.75,231.53 L347.18,233.04 L347.6,234.4 L348.02,235.6 L348.45,236.67 L348.88,237.59 L349.3,238.38 L349.72,239.04 L350.15,239.59 L350.57,240.02 L351,240.34 L351.43,240.57 L351.85,240.71 L352.27,240.78 L352.7,240.8" fill="none" stroke="#5c64d6" stroke-width="1.05" stroke-linejoin="round" />
<path d="M352.7,207.8 L353.1,211.26 L353.51,214.51 L353.91,217.56 L354.32,220.42 L354.72,223.08 L355.12,225.55 L355.53,227.84 L355.93,229.95 L356.34,231.88 L356.74,233.64 L357.15,235.23 L357.55,236.66 L357.95,237.93 L358.36,239.05 L358.76,240.02 L359.17,240.85 L359.57,241.55 L359.97,242.12 L360.38,242.57 L360.78,242.92 L361.19,243.16 L361.59,243.31 L362,243.38 L362.4,243.4" fill="none" stroke="#5c64d6" stroke-width="1.05" stroke-linejoin="round" />
<path d="M362.9,207.8 L363.32,211.37 L363.74,214.74 L364.16,217.89 L364.58,220.84 L365,223.59 L365.42,226.15 L365.85,228.52 L366.27,230.69 L366.69,232.69 L367.11,234.51 L367.53,236.15 L367.95,237.63 L368.37,238.94 L368.79,240.1 L369.21,241.1 L369.63,241.97 L370.05,242.69 L370.48,243.28 L370.9,243.75 L371.32,244.1 L371.74,244.35 L372.16,244.51 L372.58,244.58 L373,244.6" fill="none" stroke="#5c64d6" stroke-width="1.05" stroke-linejoin="round" />
<rect x="495.9" y="22.6" width="39" height="121.9" fill="#dde9f6"/>
<rect x="613.8" y="22.6" width="35.5" height="121.9" fill="#dde9f6"/>
<rect x="727.3" y="22.6" width="41.8" height="121.9" fill="#dde9f6"/>
<line x1="420" y1="10" x2="420" y2="145" stroke="#404040" stroke-width="1"/>
<line x1="417.5" y1="144.5" x2="420" y2="144.5" stroke="#404040" stroke-width="1"/>
<text transform="translate(415.6,147.5) scale(0.9,1.0)" font-size="8.7" text-anchor="end" fill="#151515" font-weight="normal" >0</text>
<line x1="417.5" y1="111" x2="420" y2="111" stroke="#404040" stroke-width="1"/>
<text transform="translate(415.6,114) scale(0.9,1.0)" font-size="8.7" text-anchor="end" fill="#151515" font-weight="normal" >10</text>
<line x1="417.5" y1="77.5" x2="420" y2="77.5" stroke="#404040" stroke-width="1"/>
<text transform="translate(415.6,80.5) scale(0.9,1.0)" font-size="8.7" text-anchor="end" fill="#151515" font-weight="normal" >20</text>
<line x1="417.5" y1="44" x2="420" y2="44" stroke="#404040" stroke-width="1"/>
<text transform="translate(415.6,47) scale(0.9,1.0)" font-size="8.7" text-anchor="end" fill="#151515" font-weight="normal" >30</text>
<line x1="417.5" y1="10.5" x2="420" y2="10.5" stroke="#404040" stroke-width="1"/>
<text transform="translate(415.6,13.5) scale(0.9,1.0)" font-size="8.7" text-anchor="end" fill="#151515" font-weight="normal" >40</text>
<line x1="419.5" y1="144.5" x2="777.5" y2="144.5" stroke="#404040" stroke-width="1"/>
<line x1="420" y1="144.5" x2="420" y2="147" stroke="#404040" stroke-width="1"/>
<text transform="translate(420,155.1) scale(0.9,1.0)" font-size="8.7" text-anchor="middle" fill="#151515" font-weight="normal" >0</text>
<line x1="455.7" y1="144.5" x2="455.7" y2="147" stroke="#404040" stroke-width="1"/>
<text transform="translate(455.7,155.1) scale(0.9,1.0)" font-size="8.7" text-anchor="middle" fill="#151515" font-weight="normal" >25</text>
<line x1="491.4" y1="144.5" x2="491.4" y2="147" stroke="#404040" stroke-width="1"/>
<text transform="translate(491.4,155.1) scale(0.9,1.0)" font-size="8.7" text-anchor="middle" fill="#151515" font-weight="normal" >50</text>
<line x1="527.1" y1="144.5" x2="527.1" y2="147" stroke="#404040" stroke-width="1"/>
<text transform="translate(527.1,155.1) scale(0.9,1.0)" font-size="8.7" text-anchor="middle" fill="#151515" font-weight="normal" >75</text>
<line x1="562.8" y1="144.5" x2="562.8" y2="147" stroke="#404040" stroke-width="1"/>
<text transform="translate(562.8,155.1) scale(0.9,1.0)" font-size="8.7" text-anchor="middle" fill="#151515" font-weight="normal" >100</text>
<line x1="598.5" y1="144.5" x2="598.5" y2="147" stroke="#404040" stroke-width="1"/>
<text transform="translate(598.5,155.1) scale(0.9,1.0)" font-size="8.7" text-anchor="middle" fill="#151515" font-weight="normal" >125</text>
<line x1="634.2" y1="144.5" x2="634.2" y2="147" stroke="#404040" stroke-width="1"/>
<text transform="translate(634.2,155.1) scale(0.9,1.0)" font-size="8.7" text-anchor="middle" fill="#151515" font-weight="normal" >150</text>
<line x1="669.9" y1="144.5" x2="669.9" y2="147" stroke="#404040" stroke-width="1"/>
<text transform="translate(669.9,155.1) scale(0.9,1.0)" font-size="8.7" text-anchor="middle" fill="#151515" font-weight="normal" >175</text>
<line x1="705.6" y1="144.5" x2="705.6" y2="147" stroke="#404040" stroke-width="1"/>
<text transform="translate(705.6,155.1) scale(0.9,1.0)" font-size="8.7" text-anchor="middle" fill="#151515" font-weight="normal" >200</text>
<line x1="741.3" y1="144.5" x2="741.3" y2="147" stroke="#404040" stroke-width="1"/>
<text transform="translate(741.3,155.1) scale(0.9,1.0)" font-size="8.7" text-anchor="middle" fill="#151515" font-weight="normal" >225</text>
<line x1="777" y1="144.5" x2="777" y2="147" stroke="#404040" stroke-width="1"/>
<text transform="translate(777,155.1) scale(0.9,1.0)" font-size="8.7" text-anchor="middle" fill="#151515" font-weight="normal" >250</text>
<text transform="translate(598.5,169.8) scale(1.0,1.12)" font-size="9.9" text-anchor="middle" fill="#151515" font-weight="normal" >Time (h)</text>
<text transform="translate(403.8,76.5) rotate(-90)" font-size="9.9" text-anchor="middle" fill="#151515">Flow rate (ccm)</text>
<line x1="483.2" y1="10" x2="498.1" y2="10" stroke="#111" stroke-width="1.15"/>
<text transform="translate(503.8,12) scale(1.0,1.1)" font-size="6.6" text-anchor="start" fill="#151515" font-weight="normal" >Without ergosterol and Tween 80</text>
<line x1="613.8" y1="10" x2="628.9" y2="10" stroke="#5c64d6" stroke-width="1.15"/>
<text transform="translate(634.6,12) scale(1.0,1.1)" font-size="6.6" text-anchor="start" fill="#151515" font-weight="normal" >With ergosterol and Tween 80</text>
<text x="440.7" y="22.1" font-size="6.9" text-anchor="middle" fill="#111" font-weight="bold" >1</text>
<text x="459" y="22.1" font-size="6.9" text-anchor="middle" fill="#111" font-weight="bold" >2</text>
<text x="472.3" y="22.1" font-size="6.9" text-anchor="middle" fill="#111" font-weight="bold" >3</text>
<line x1="470.2" y1="22.9" x2="474.4" y2="22.9" stroke="#333" stroke-width="0.8"/>
<text x="487.7" y="22.1" font-size="6.9" text-anchor="middle" fill="#111" font-weight="bold" >4</text>
<line x1="485.6" y1="22.9" x2="489.8" y2="22.9" stroke="#333" stroke-width="0.8"/>
<text x="500.8" y="22.1" font-size="6.9" text-anchor="middle" fill="#6464d4" font-weight="bold" >5</text>
<text x="510.7" y="22.1" font-size="6.9" text-anchor="middle" fill="#6464d4" font-weight="bold" >6</text>
<text x="520.6" y="22.1" font-size="6.9" text-anchor="middle" fill="#6464d4" font-weight="bold" >7</text>
<text x="530.7" y="22.1" font-size="6.9" text-anchor="middle" fill="#6464d4" font-weight="bold" >8</text>
<text x="538.9" y="22.1" font-size="6.9" text-anchor="middle" fill="#111" font-weight="bold" >9</text>
<text x="550.4" y="22.1" font-size="6.9" text-anchor="middle" fill="#111" font-weight="bold" >10</text>
<text x="560.7" y="22.1" font-size="6.9" text-anchor="middle" fill="#111" font-weight="bold" >11</text>
<text x="574.3" y="22.1" font-size="6.9" text-anchor="middle" fill="#111" font-weight="bold" >12</text>
<line x1="570.25" y1="22.9" x2="578.35" y2="22.9" stroke="#333" stroke-width="0.8"/>
<text x="588" y="22.1" font-size="6.9" text-anchor="middle" fill="#111" font-weight="bold" >13</text>
<line x1="583.95" y1="22.9" x2="592.05" y2="22.9" stroke="#333" stroke-width="0.8"/>
<text x="600.6" y="22.1" font-size="6.9" text-anchor="middle" fill="#111" font-weight="bold" >14</text>
<line x1="596.55" y1="22.9" x2="604.65" y2="22.9" stroke="#333" stroke-width="0.8"/>
<text x="622.4" y="22.1" font-size="6.9" text-anchor="middle" fill="#6464d4" font-weight="bold" >16</text>
<text x="632.8" y="22.1" font-size="6.9" text-anchor="middle" fill="#6464d4" font-weight="bold" >17</text>
<text x="645.3" y="22.1" font-size="6.9" text-anchor="middle" fill="#6464d4" font-weight="bold" >18</text>
<text x="655.8" y="22.1" font-size="6.9" text-anchor="middle" fill="#111" font-weight="bold" >19</text>
<text x="665.8" y="22.1" font-size="6.9" text-anchor="middle" fill="#111" font-weight="bold" >20</text>
<text x="676" y="22.1" font-size="6.9" text-anchor="middle" fill="#111" font-weight="bold" >21</text>
<line x1="671.95" y1="22.9" x2="680.05" y2="22.9" stroke="#333" stroke-width="0.8"/>
<text x="689.8" y="22.1" font-size="6.9" text-anchor="middle" fill="#111" font-weight="bold" >22</text>
<line x1="685.75" y1="22.9" x2="693.85" y2="22.9" stroke="#333" stroke-width="0.8"/>
<text x="703.1" y="22.1" font-size="6.9" text-anchor="middle" fill="#111" font-weight="bold" >23</text>
<line x1="699.05" y1="22.9" x2="707.15" y2="22.9" stroke="#333" stroke-width="0.8"/>
<text x="716.7" y="22.1" font-size="6.9" text-anchor="middle" fill="#111" font-weight="bold" >24</text>
<line x1="712.65" y1="22.9" x2="720.75" y2="22.9" stroke="#333" stroke-width="0.8"/>
<text x="731.1" y="22.1" font-size="6.9" text-anchor="middle" fill="#6464d4" font-weight="bold" >25</text>
<text x="744" y="22.1" font-size="6.9" text-anchor="middle" fill="#6464d4" font-weight="bold" >26</text>
<text x="754.6" y="22.1" font-size="6.9" text-anchor="middle" fill="#6464d4" font-weight="bold" >27</text>
<text x="765.7" y="22.1" font-size="6.9" text-anchor="middle" fill="#6464d4" font-weight="bold" >28</text>
<path d="M420,144.29 L420.26,143.94 L420.63,144.32 L421,143.29 L421.33,143.35 L421.67,142.53 L422,141.47 L422.33,141.26 L422.67,139.88 L423,139.42 L423.33,137.95 L423.67,136.82 L424,135.91 L424.33,134.91 L424.67,132.42 L425,130.67 L425.33,128.93 L425.67,126.87 L426,124.09 L426.33,121.88 L426.65,120.68 L427,117.46 L427.39,115.84 L427.79,112.34 L428.2,109.57 L428.61,107.36 L429.03,105.62 L429.4,104.38 L429.7,101.88 L429.95,100.73 L430.2,99.17 L430.46,97.22 L430.72,95.8 L431,93.48 L431.32,91.51 L431.66,89.61 L432,88.22 L432.33,86.17 L432.67,84.41 L433,83.1 L433.34,81.23 L433.68,79.33 L434,78.35 L434.27,77.26 L434.51,74.56 L434.8,74.54 L435.18,73.39 L435.6,73.67 L436,72.73 L436.35,71.6 L436.67,74.45 L437,71.78 L437.33,71.74 L437.67,71.27 L438,67.89 L438.33,67.85 L438.67,65.41 L439,66.54 L439.33,66.11 L439.67,64.86 L440,65.2 L440.33,62.7 L440.67,63.22 L441,62.3 L441.33,61.85 L441.67,61.16 L442,62.09 L442.33,62.09 L442.67,60.25 L443,60.53 L443.33,58.21 L443.67,59.87 L444,59.47 L444.33,60.67 L444.67,60.38 L445,58.81 L445.33,58.99 L445.67,59.63 L446,57.47 L446.33,59.12 L446.67,58.59 L447,58.77 L447.33,58.76 L447.67,61.14 L448,59.31 L448.34,60.08 L448.68,61.04 L449,63.19 L449.27,61.31 L449.53,63.24 L449.8,64.66 L450.13,67.36 L450.48,69.11 L450.8,71.16 L451.06,70.62 L451.29,72.34 L451.5,74.55 L451.71,79.53 L451.91,84.17 L452.1,88.88 L452.29,102.22 L452.47,118.55 L452.6,130.15" fill="none" stroke="#111" stroke-width="1.2" stroke-linejoin="round" />
<path d="M453.7,90.55 L454.01,84.74 L454.31,80.18 L454.62,76.29 L454.93,72.13 L455.23,68.96 L455.54,65.9 L455.84,63.62 L456.15,60.06 L456.46,55.93 L456.76,53.08 L457.07,50.64 L457.38,48.81 L457.68,46.09 L457.99,45.35 L458.29,44.51 L458.6,46.4 L458.91,45.01 L459.21,45.56 L459.52,47.37 L459.82,47.68 L460.12,47.65 L460.43,49.07 L460.74,51.66 L461.04,51.62 L461.35,55.42 L461.65,57.38 L461.96,59.93 L462.26,64.02 L462.57,66.81 L462.87,70.28 L463.18,74.92 L463.48,79.42 L463.79,84.1 L464.09,89.74 L464.4,95.43 L464.7,100.94" fill="none" stroke="#111" stroke-width="1.15" stroke-linejoin="round" />
<path d="M464.7,100.94 L465.1,134.4 L465.7,68 L466.2,76" fill="none" stroke="#111" stroke-width="0.8" stroke-linejoin="round" />
<path d="M466.2,75.9 L466.51,71.94 L466.81,69.08 L467.12,67.78 L467.43,65.51 L467.73,64.54 L468.04,61.77 L468.35,59.75 L468.65,58 L468.96,56.88 L469.27,54.87 L469.57,52.67 L469.88,54.26 L470.19,53.59 L470.49,51.59 L470.8,52.25 L471.1,54.45 L471.4,52.85 L471.7,54.1 L472,52.37 L472.3,54.49 L472.6,53.42 L472.9,56.73 L473.2,55.99 L473.5,56.43 L473.8,58.94 L474.1,59.32 L474.4,60.93 L474.7,63.28 L475,63.46 L475.3,65.04 L475.6,67.21 L475.9,69.11 L476.2,72.28 L476.5,74.96 L476.8,77.58 L477.1,80.43 L477.4,83.39 L477.7,85.82 L478,88.34 L478.3,92.3" fill="none" stroke="#111" stroke-width="1.15" stroke-linejoin="round" />
<path d="M478.3,92.3 L478.7,132.7 L479.3,75.6 L480.4,94.2" fill="none" stroke="#111" stroke-width="0.8" stroke-linejoin="round" />
<path d="M480.4,94.35 L480.71,90.58 L481.02,87.48 L481.34,84.24 L481.65,81.63 L481.96,79.79 L482.27,77.74 L482.59,77.02 L482.9,74.1 L483.21,71.31 L483.52,69.27 L483.84,67.81 L484.15,67.62 L484.46,67.36 L484.77,65.34 L485.09,66 L485.4,63.38 L485.71,63.19 L486.01,62.95 L486.32,65.3 L486.63,64.3 L486.94,66.16 L487.24,66.7 L487.55,65.87 L487.86,66.94 L488.16,69.13 L488.47,67.82 L488.78,69.5 L489.09,69.52 L489.39,71.59 L489.7,71.78 L490.01,71.88 L490.31,74.31 L490.62,74.8 L490.93,78.33 L491.24,79.56 L491.54,81.07 L491.85,83.75 L492.16,85.56 L492.46,88.66 L492.77,90.09 L493.08,93.25 L493.39,95.41 L493.69,97.99 L494,100.2" fill="none" stroke="#111" stroke-width="1.15" stroke-linejoin="round" />
<path d="M494,100.2 L494.4,125.5" fill="none" stroke="#111" stroke-width="0.8" stroke-linejoin="round" />
<path d="M495.1,93.17 L495.41,86.77 L495.72,80.97 L496.03,75.56 L496.34,70.05 L496.65,65.06 L496.96,60.37 L497.27,55.86 L497.58,51.8 L497.89,47.79 L498.21,44.12 L498.52,39.69 L498.83,35.92 L499.14,33.06 L499.45,32.01 L499.76,28.95 L500.07,29.43 L500.38,28.07 L500.69,26.53 L501,26.43 L501.3,27.43 L501.6,27.7 L501.9,30.21 L502.2,31.27 L502.5,32.52 L502.8,35.05 L503.1,39.32 L503.4,42.86 L503.7,49.16 L504,54.31 L504.3,60.21 L504.6,66.99 L504.9,74.68" fill="none" stroke="#5c64d6" stroke-width="1.0" stroke-linejoin="round" />
<path d="M504.9,74.68 L505.3,131.4 L505.8,77" fill="none" stroke="#5c64d6" stroke-width="0.8" stroke-linejoin="round" />
<path d="M505.8,77.97 L506.1,71.71 L506.4,66.93 L506.7,61.5 L507,57.22 L507.3,53.18 L507.6,49.76 L507.9,46.16 L508.2,41.99 L508.5,38.29 L508.8,35.85 L509.1,34.25 L509.4,32.79 L509.7,31.23 L510,31.91 L510.3,30.47 L510.61,28.89 L510.91,32.17 L511.22,32.79 L511.53,33 L511.84,35.8 L512.14,39.24 L512.45,41.61 L512.76,45.16 L513.06,48.41 L513.37,52.31 L513.68,57.29 L513.99,63.75 L514.29,70.24 L514.6,77.19" fill="none" stroke="#5c64d6" stroke-width="1.0" stroke-linejoin="round" />
<path d="M514.6,77.19 L515,124.6 L515.5,76" fill="none" stroke="#5c64d6" stroke-width="0.8" stroke-linejoin="round" />
<path d="M515.5,75.6 L515.81,70.51 L516.12,65.82 L516.44,60.77 L516.75,55.76 L517.06,52.7 L517.38,49.86 L517.69,47.4 L518,43.94 L518.31,41.29 L518.62,38.33 L518.94,34.41 L519.25,33.84 L519.56,32.04 L519.88,29.66 L520.19,30.71 L520.5,30.74 L520.82,30.24 L521.13,30.78 L521.45,33.16 L521.77,35.18 L522.08,35.99 L522.4,40.9 L522.72,44.71 L523.03,48.78 L523.35,54.91 L523.67,61.19 L523.98,68.87 L524.3,76.1" fill="none" stroke="#5c64d6" stroke-width="1.0" stroke-linejoin="round" />
<path d="M524.3,76.1 L524.7,128 L525.2,76" fill="none" stroke="#5c64d6" stroke-width="0.8" stroke-linejoin="round" />
<path d="M525.2,76.32 L525.51,71.1 L525.81,67.11 L526.12,61.67 L526.42,57.87 L526.73,53.62 L527.03,50.34 L527.34,47.66 L527.64,46.31 L527.95,42.91 L528.26,39.97 L528.56,35.82 L528.87,34.85 L529.17,31.65 L529.48,29.85 L529.78,27.63 L530.09,27.67 L530.39,27.58 L530.7,27.81 L531.03,27.32 L531.36,30.34 L531.69,31.96 L532.02,36.06 L532.35,39.45 L532.68,43.76 L533.01,49.67 L533.34,56.61 L533.67,64.9 L534,73.62" fill="none" stroke="#5c64d6" stroke-width="1.0" stroke-linejoin="round" />
<path d="M534,73.62 L534.4,124.6 L535,70.2" fill="none" stroke="#5c64d6" stroke-width="0.8" stroke-linejoin="round" />
<path d="M535,69.84 L535.32,65.97 L535.64,60.98 L535.96,56.54 L536.28,52.32 L536.6,48.86 L536.92,47.35 L537.24,45.04 L537.56,41.61 L537.88,37.54 L538.2,35.05 L538.52,33.06 L538.84,32.59 L539.16,32.61 L539.48,30.97 L539.8,30.67 L540.11,29.74 L540.43,32.58 L540.74,32.3 L541.06,34.88 L541.37,35.27 L541.69,38.16 L542,42.4 L542.31,46.31 L542.63,48.99 L542.94,55.16 L543.26,60.44 L543.57,66.28 L543.89,74.05 L544.2,82.18" fill="none" stroke="#111" stroke-width="1.15" stroke-linejoin="round" />
<path d="M544.2,82.18 L544.6,125.4 L544.9,68" fill="none" stroke="#111" stroke-width="0.8" stroke-linejoin="round" />
<path d="M544.9,67.37 L545.22,63.8 L545.54,61.11 L545.85,58.14 L546.17,55.45 L546.49,52.47 L546.81,51.19 L547.12,50.8 L547.44,47.61 L547.76,45.81 L548.08,42.5 L548.39,41.05 L548.71,39.43 L549.03,38.54 L549.35,36.25 L549.66,37.38 L549.98,36.97 L550.3,34.98 L550.61,36.86 L550.92,35.98 L551.22,37.17 L551.53,39.02 L551.84,41.85 L552.15,44.6 L552.46,48.17 L552.77,53.26 L553.08,58.59 L553.38,64.67 L553.69,71.56 L554,79.06" fill="none" stroke="#111" stroke-width="1.15" stroke-linejoin="round" />
<path d="M554,79.06 L554.4,113.2 L555.2,75.8" fill="none" stroke="#111" stroke-width="0.8" stroke-linejoin="round" />
<path d="M555.2,75.23 L555.51,72.61 L555.82,70.49 L556.13,67.08 L556.44,65.01 L556.76,62.62 L557.07,60.78 L557.38,59.86 L557.69,57.59 L558,57.08 L558.31,55.01 L558.62,53.9 L558.93,50.4 L559.24,50.92 L559.56,49.22 L559.87,47.58 L560.18,46.27 L560.49,45.6 L560.8,47.18 L561.1,46.8 L561.4,45.3 L561.7,47.55 L562,46.23 L562.3,48.21 L562.6,49.78 L562.9,53.05 L563.2,53.45 L563.5,57.01 L563.8,58.04 L564.1,62.61 L564.4,65.81 L564.7,69.78 L565,74.26 L565.3,78.51 L565.6,83.87 L565.9,88.76" fill="none" stroke="#111" stroke-width="1.15" stroke-linejoin="round" />
<path d="M565.9,88.76 L566.3,133.6 L566.9,62.3 L567.5,73.6" fill="none" stroke="#111" stroke-width="0.8" stroke-linejoin="round" />
<path d="M567.5,74.26 L567.8,70.98 L568.1,66.47 L568.4,64.3 L568.7,61.44 L569,59.1 L569.3,58.43 L569.6,55.94 L569.9,53.78 L570.2,51.25 L570.5,48.57 L570.8,48.31 L571.1,45.24 L571.4,44.97 L571.7,43.36 L572,44.07 L572.3,46.3 L572.6,45.4 L572.9,44.78 L573.2,47 L573.5,46.4 L573.8,48.25 L574.1,49.93 L574.4,51.51 L574.7,52.99 L575,53.92 L575.3,56.12 L575.6,57.12 L575.9,59.22 L576.2,63.12 L576.5,65.69 L576.8,69.7 L577.1,73.12 L577.4,77.24 L577.7,80.35 L578,85.36 L578.3,89.81 L578.6,94.45" fill="none" stroke="#111" stroke-width="1.15" stroke-linejoin="round" />
<path d="M578.6,94.45 L579,138.1 L579.6,66.8 L580.2,86" fill="none" stroke="#111" stroke-width="0.8" stroke-linejoin="round" />
<path d="M580.2,85.98 L580.51,82.51 L580.82,78.94 L581.14,75.19 L581.45,73.44 L581.76,70.02 L582.07,67.63 L582.38,65.62 L582.69,63.36 L583.01,61.73 L583.32,57.6 L583.63,57.26 L583.94,54.93 L584.25,55.07 L584.56,52.29 L584.88,52.47 L585.19,52.8 L585.5,51.26 L585.81,52.25 L586.12,51.9 L586.43,52.85 L586.74,53.57 L587.05,55.52 L587.35,55.71 L587.66,57.33 L587.97,56.48 L588.28,59.49 L588.59,61.57 L588.9,64.11 L589.21,65.01 L589.52,68.55 L589.83,70.86 L590.14,74.27 L590.45,77.15 L590.75,80.53 L591.06,84.25 L591.37,88.58 L591.68,92.14 L591.99,96.54 L592.3,101.19" fill="none" stroke="#111" stroke-width="1.15" stroke-linejoin="round" />
<path d="M592.3,101.19 L592.7,129.5 L593.3,68 L594.4,91.7" fill="none" stroke="#111" stroke-width="0.8" stroke-linejoin="round" />
<path d="M594.4,91.47 L594.71,87.63 L595.01,84.25 L595.32,80.55 L595.62,76.96 L595.93,75.37 L596.24,72.02 L596.54,70.69 L596.85,67.84 L597.15,66.4 L597.46,62.91 L597.76,62.7 L598.07,60.88 L598.38,59.13 L598.68,58.36 L598.99,57.06 L599.29,56.75 L599.6,56.86 L599.91,55.62 L600.21,57.18 L600.52,57.79 L600.83,57.58 L601.13,57.6 L601.44,57.16 L601.75,57.66 L602.05,59.46 L602.36,60.59 L602.67,61.74 L602.97,62.59 L603.28,63.38 L603.59,65.63 L603.89,66.8 L604.2,68.69 L604.51,69.76 L604.81,72.7 L605.12,75.85 L605.43,77.24 L605.73,79.09 L606.04,81.98 L606.35,84.07 L606.65,86.32 L606.96,88.36 L607.27,91.54 L607.57,94.5 L607.88,97.06 L608.19,100.06 L608.49,104.49 L608.8,108.19" fill="none" stroke="#111" stroke-width="1.15" stroke-linejoin="round" />
<path d="M608.8,108.19 L609.2,128.3" fill="none" stroke="#111" stroke-width="0.8" stroke-linejoin="round" />
<path d="M639.8,66.06 L640.11,62.56 L640.41,58.82 L640.72,55.12 L641.02,51.9 L641.33,49.87 L641.63,47.53 L641.94,45.54 L642.24,42.6 L642.55,40.5 L642.86,37.95 L643.16,35.21 L643.47,32.66 L643.77,31.71 L644.08,30.04 L644.38,27.7 L644.69,28.15 L644.99,27.34 L645.3,26.62 L645.62,27.91 L645.94,26.14 L646.25,27.44 L646.57,29.43 L646.89,32.78 L647.21,35.72 L647.53,38.48 L647.85,43.66 L648.16,48.22 L648.48,54.88 L648.8,61.37" fill="none" stroke="#5c64d6" stroke-width="1.0" stroke-linejoin="round" />
<path d="M648.8,61.37 L649.2,119.8 L649.6,62" fill="none" stroke="#5c64d6" stroke-width="0.8" stroke-linejoin="round" />
<path d="M649.6,61.31 L649.91,58.46 L650.23,55.08 L650.54,52.34 L650.85,49.01 L651.16,46.87 L651.48,45.76 L651.79,43.09 L652.1,40.98 L652.41,40.46 L652.73,36.16 L653.04,35.5 L653.35,35.31 L653.66,32.64 L653.98,30.99 L654.29,33.09 L654.6,31.04 L654.91,33.66 L655.21,33.99 L655.52,33.24 L655.83,33.85 L656.14,35 L656.44,38.04 L656.75,40.74 L657.06,42.77 L657.36,46.2 L657.67,48.96 L657.98,54.01 L658.29,57.92 L658.59,61.75 L658.9,67.23" fill="none" stroke="#111" stroke-width="1.15" stroke-linejoin="round" />
<path d="M658.9,67.23 L659.3,121.5 L659.8,68" fill="none" stroke="#111" stroke-width="0.8" stroke-linejoin="round" />
<path d="M659.8,68.77 L660.11,65.54 L660.41,61.84 L660.72,59.89 L661.02,57.58 L661.33,55.27 L661.63,53.63 L661.94,51.65 L662.24,50.41 L662.55,47.66 L662.85,45.24 L663.16,43.23 L663.46,40.72 L663.77,40.46 L664.07,38.09 L664.38,38.37 L664.68,37.86 L664.99,35.92 L665.29,36.53 L665.6,38.09 L665.92,36.25 L666.23,39.17 L666.55,38.05 L666.87,39.32 L667.18,42.67 L667.5,45.26 L667.82,48.97 L668.13,51.78 L668.45,56.79 L668.77,61.21 L669.08,66.79 L669.4,73.3" fill="none" stroke="#111" stroke-width="1.15" stroke-linejoin="round" />
<path d="M669.4,73.3 L669.8,125.8 L670.2,72" fill="none" stroke="#111" stroke-width="0.8" stroke-linejoin="round" />
<path d="M670.2,72.17 L670.52,69.07 L670.83,65.82 L671.15,62.24 L671.47,59.73 L671.78,57.47 L672.1,56 L672.42,54.58 L672.73,52.33 L673.05,48.13 L673.37,46.88 L673.68,43.66 L674,43.19 L674.32,41.54 L674.63,40.95 L674.95,40.34 L675.27,40.38 L675.58,40.8 L675.9,39.02 L676.21,39.2 L676.51,41.58 L676.82,41.98 L677.12,42.01 L677.43,44.26 L677.74,45.1 L678.04,44.6 L678.35,47.9 L678.65,49.19 L678.96,52.19 L679.26,55.74 L679.57,59.77 L679.88,63.31 L680.18,67.12 L680.49,72.51 L680.79,77.35 L681.1,83.06" fill="none" stroke="#111" stroke-width="1.15" stroke-linejoin="round" />
<path d="M681.1,83.06 L681.5,128.3 L682.1,59.4 L682,78" fill="none" stroke="#111" stroke-width="0.8" stroke-linejoin="round" />
<path d="M682,77.8 L682.31,75.27 L682.61,71.43 L682.92,68.83 L683.22,66.06 L683.53,63.32 L683.83,61.5 L684.14,59.2 L684.44,58.86 L684.75,55.73 L685.05,54.02 L685.36,53.63 L685.66,51.71 L685.97,48.95 L686.27,47.8 L686.58,47.28 L686.88,46.01 L687.19,46.68 L687.49,46.2 L687.8,44.66 L688.1,45.57 L688.4,47.44 L688.7,46.71 L689,47.05 L689.3,48.1 L689.6,49.46 L689.9,50.81 L690.2,51.58 L690.5,52 L690.8,53.15 L691.1,56.18 L691.4,57.93 L691.7,59.23 L692,61.71 L692.3,64.05 L692.6,66.57 L692.9,70.24 L693.2,72.82 L693.5,75.83 L693.8,79.36 L694.1,83.63 L694.4,86.81 L694.7,91.23" fill="none" stroke="#111" stroke-width="1.15" stroke-linejoin="round" />
<path d="M694.7,91.23 L695.1,126.6 L696.3,86.8" fill="none" stroke="#111" stroke-width="0.8" stroke-linejoin="round" />
<path d="M696.3,87.09 L696.6,84.03 L696.9,80.42 L697.2,77.67 L697.5,75.12 L697.8,72.25 L698.1,70.64 L698.4,68.28 L698.7,65.62 L699,63.76 L699.3,61.44 L699.6,58.94 L699.9,59.64 L700.2,56.71 L700.5,56.68 L700.8,54.94 L701.1,56.78 L701.4,55.81 L701.71,55.17 L702.02,55.64 L702.32,57.14 L702.63,56.48 L702.94,56.87 L703.25,57.69 L703.55,58.19 L703.86,57.45 L704.17,58.18 L704.48,57.81 L704.78,59.96 L705.09,61.02 L705.4,62.73 L705.71,64.95 L706.02,66.98 L706.32,67.8 L706.63,71.59 L706.94,73.04 L707.25,76.41 L707.55,77.65 L707.86,81.45 L708.17,83.46 L708.48,86.05 L708.78,89.59 L709.09,92.85 L709.4,96.04" fill="none" stroke="#111" stroke-width="1.15" stroke-linejoin="round" />
<path d="M709.4,96.04 L709.8,124.4 L711.5,91" fill="none" stroke="#111" stroke-width="0.8" stroke-linejoin="round" />
<path d="M711.5,91.59 L711.8,88.7 L712.1,86.04 L712.4,82.52 L712.7,80.21 L713,77.77 L713.3,76.18 L713.6,73.81 L713.9,71.92 L714.2,68.9 L714.5,66.19 L714.8,64.52 L715.1,62.3 L715.4,62.87 L715.7,62.67 L716,61.71 L716.3,62.85 L716.6,61.27 L716.91,59.76 L717.21,61.82 L717.52,61.55 L717.83,62.43 L718.13,63.79 L718.44,63.1 L718.75,62.74 L719.06,63.86 L719.36,64.93 L719.67,64.95 L719.98,66.29 L720.28,68.29 L720.59,69.09 L720.9,69.42 L721.2,70.43 L721.51,72.74 L721.82,73.73 L722.12,75.09 L722.43,77.49 L722.74,78.6 L723.04,81.7 L723.35,82.81 L723.66,84.79 L723.97,87.5 L724.27,89.87 L724.58,92.99 L724.89,95.58 L725.19,98.44 L725.5,101.34" fill="none" stroke="#111" stroke-width="1.15" stroke-linejoin="round" />
<path d="M725.5,101.34 L725.9,121.5" fill="none" stroke="#111" stroke-width="0.8" stroke-linejoin="round" />
<path d="M727.6,86.57 L727.92,80.62 L728.24,73.99 L728.55,68.89 L728.87,64.4 L729.19,59.98 L729.51,56.42 L729.82,52.57 L730.14,48.92 L730.46,45.44 L730.78,41.27 L731.09,38.28 L731.41,37.21 L731.73,35.75 L732.05,31.86 L732.36,32.16 L732.68,33.12 L733,31.25 L733.32,31.52 L733.63,30.35 L733.95,30.85 L734.26,32.73 L734.58,35.06 L734.89,37.94 L735.21,41.34 L735.52,44.22 L735.84,46.56 L736.15,52.12 L736.47,57.38 L736.78,62.19 L737.1,68.31" fill="none" stroke="#5c64d6" stroke-width="1.0" stroke-linejoin="round" />
<path d="M737.1,68.31 L737.5,114.7 L738,69" fill="none" stroke="#5c64d6" stroke-width="0.8" stroke-linejoin="round" />
<path d="M738,69.36 L738.3,66.87 L738.6,62.39 L738.9,60.11 L739.2,56.22 L739.5,53.64 L739.8,52.24 L740.1,49.69 L740.4,48.19 L740.7,45.83 L741,44.16 L741.3,42.5 L741.6,39.92 L741.9,39.9 L742.2,37.78 L742.5,35.2 L742.8,36.41 L743.1,34.83 L743.4,36.26 L743.7,35.08 L744.03,34.49 L744.35,35.09 L744.68,36.61 L745,38.48 L745.33,38.04 L745.65,41.1 L745.98,44.86 L746.3,47.28 L746.62,52.45 L746.95,56.57 L747.27,61.55 L747.6,67.35" fill="none" stroke="#5c64d6" stroke-width="1.0" stroke-linejoin="round" />
<path d="M747.6,67.35 L748,120.7 L748.5,66" fill="none" stroke="#5c64d6" stroke-width="0.8" stroke-linejoin="round" />
<path d="M748.5,66.41 L748.82,62.23 L749.14,58.73 L749.45,56.28 L749.77,52.57 L750.09,49.93 L750.41,47.08 L750.72,46.41 L751.04,42.93 L751.36,41.95 L751.68,38.67 L751.99,37.92 L752.31,35.45 L752.63,33.61 L752.95,32.22 L753.26,32.27 L753.58,32.02 L753.9,31.17 L754.22,33.12 L754.53,31.1 L754.85,34.23 L755.17,34.95 L755.48,36.81 L755.8,38.05 L756.12,43.84 L756.43,47.43 L756.75,52.18 L757.07,57.67 L757.38,64.16 L757.7,71.27" fill="none" stroke="#5c64d6" stroke-width="1.0" stroke-linejoin="round" />
<path d="M757.7,71.27 L758.1,117.3 L758.6,71" fill="none" stroke="#5c64d6" stroke-width="0.8" stroke-linejoin="round" />
<path d="M758.6,70.17 L758.91,64.94 L759.21,60.64 L759.52,56.81 L759.82,53.8 L760.13,49.43 L760.43,45.8 L760.74,43.94 L761.04,41.95 L761.35,39.61 L761.66,35.94 L761.96,33.87 L762.27,30.68 L762.57,28.41 L762.88,28.47 L763.18,27.74 L763.49,26.22 L763.79,25.59 L764.1,24.37 L764.42,26.08 L764.73,27.18 L765.05,28.07 L765.37,29.28 L765.68,32.3 L766,35.91 L766.32,39.5 L766.63,44.87 L766.95,50.57 L767.27,56.94 L767.58,65.43 L767.9,75.2" fill="none" stroke="#5c64d6" stroke-width="1.0" stroke-linejoin="round" />
<path d="M767.9,75.2 L768.3,119.8" fill="none" stroke="#5c64d6" stroke-width="0.8" stroke-linejoin="round" />
<path d="M452.6,131 L453.7,90.5" fill="none" stroke="#111" stroke-width="0.8" stroke-linejoin="round" />
<path d="M620.7,54.47 L620.7,33.97 L621.2,45.94 L622,40.72 L623,42.51 L624,40.91 L625,41.65 L626,41.94 L626.8,46.81 L627.5,56.39 L628.2,65.97 L628.8,74.15 L629.2,94.87 L629.6,77.67 L630.5,69.47 L631.5,58.26 L632.5,49.06 L633.5,43.57 L635.1,42.44 L636.3,44.72 L637.3,52.89 L638.3,63.59 L638.9,71.73" fill="none" stroke="#5c64d6" stroke-width="0.95" stroke-linejoin="round" />
<path d="M638.9,72 L639.3,123.2 L639.8,66" fill="none" stroke="#5c64d6" stroke-width="0.8" stroke-linejoin="round" />
<rect x="494.2" y="201.7" width="40.2" height="124.8" fill="#dde9f6"/>
<rect x="620.8" y="201.7" width="29.2" height="124.8" fill="#dde9f6"/>
<rect x="726.8" y="201.7" width="41.8" height="124.8" fill="#dde9f6"/>
<line x1="419.7" y1="189" x2="419.7" y2="327" stroke="#404040" stroke-width="1"/>
<line x1="417.2" y1="326.5" x2="419.7" y2="326.5" stroke="#404040" stroke-width="1"/>
<text transform="translate(415.6,329.5) scale(0.9,1.0)" font-size="8.7" text-anchor="end" fill="#151515" font-weight="normal" >-60</text>
<line x1="417.2" y1="311.28" x2="419.7" y2="311.28" stroke="#404040" stroke-width="1"/>
<text transform="translate(415.6,314.28) scale(0.9,1.0)" font-size="8.7" text-anchor="end" fill="#151515" font-weight="normal" >-50</text>
<line x1="417.2" y1="296.06" x2="419.7" y2="296.06" stroke="#404040" stroke-width="1"/>
<text transform="translate(415.6,299.06) scale(0.9,1.0)" font-size="8.7" text-anchor="end" fill="#151515" font-weight="normal" >-40</text>
<line x1="417.2" y1="280.84" x2="419.7" y2="280.84" stroke="#404040" stroke-width="1"/>
<text transform="translate(415.6,283.84) scale(0.9,1.0)" font-size="8.7" text-anchor="end" fill="#151515" font-weight="normal" >-30</text>
<line x1="417.2" y1="265.62" x2="419.7" y2="265.62" stroke="#404040" stroke-width="1"/>
<text transform="translate(415.6,268.62) scale(0.9,1.0)" font-size="8.7" text-anchor="end" fill="#151515" font-weight="normal" >-20</text>
<line x1="417.2" y1="250.4" x2="419.7" y2="250.4" stroke="#404040" stroke-width="1"/>
<text transform="translate(415.6,253.4) scale(0.9,1.0)" font-size="8.7" text-anchor="end" fill="#151515" font-weight="normal" >-10</text>
<line x1="417.2" y1="235.18" x2="419.7" y2="235.18" stroke="#404040" stroke-width="1"/>
<text transform="translate(415.6,238.18) scale(0.9,1.0)" font-size="8.7" text-anchor="end" fill="#151515" font-weight="normal" >0</text>
<line x1="417.2" y1="219.96" x2="419.7" y2="219.96" stroke="#404040" stroke-width="1"/>
<text transform="translate(415.6,222.96) scale(0.9,1.0)" font-size="8.7" text-anchor="end" fill="#151515" font-weight="normal" >10</text>
<line x1="417.2" y1="204.74" x2="419.7" y2="204.74" stroke="#404040" stroke-width="1"/>
<text transform="translate(415.6,207.74) scale(0.9,1.0)" font-size="8.7" text-anchor="end" fill="#151515" font-weight="normal" >20</text>
<line x1="417.2" y1="189.52" x2="419.7" y2="189.52" stroke="#404040" stroke-width="1"/>
<text transform="translate(415.6,192.52) scale(0.9,1.0)" font-size="8.7" text-anchor="end" fill="#151515" font-weight="normal" >30</text>
<line x1="419.2" y1="326.5" x2="777.6" y2="326.5" stroke="#404040" stroke-width="1"/>
<line x1="419.7" y1="326.5" x2="419.7" y2="329" stroke="#404040" stroke-width="1"/>
<text transform="translate(419.7,337) scale(0.9,1.0)" font-size="8.7" text-anchor="middle" fill="#151515" font-weight="normal" >0</text>
<line x1="455.44" y1="326.5" x2="455.44" y2="329" stroke="#404040" stroke-width="1"/>
<text transform="translate(455.44,337) scale(0.9,1.0)" font-size="8.7" text-anchor="middle" fill="#151515" font-weight="normal" >25</text>
<line x1="491.18" y1="326.5" x2="491.18" y2="329" stroke="#404040" stroke-width="1"/>
<text transform="translate(491.18,337) scale(0.9,1.0)" font-size="8.7" text-anchor="middle" fill="#151515" font-weight="normal" >50</text>
<line x1="526.92" y1="326.5" x2="526.92" y2="329" stroke="#404040" stroke-width="1"/>
<text transform="translate(526.92,337) scale(0.9,1.0)" font-size="8.7" text-anchor="middle" fill="#151515" font-weight="normal" >75</text>
<line x1="562.66" y1="326.5" x2="562.66" y2="329" stroke="#404040" stroke-width="1"/>
<text transform="translate(562.66,337) scale(0.9,1.0)" font-size="8.7" text-anchor="middle" fill="#151515" font-weight="normal" >100</text>
<line x1="598.4" y1="326.5" x2="598.4" y2="329" stroke="#404040" stroke-width="1"/>
<text transform="translate(598.4,337) scale(0.9,1.0)" font-size="8.7" text-anchor="middle" fill="#151515" font-weight="normal" >125</text>
<line x1="634.14" y1="326.5" x2="634.14" y2="329" stroke="#404040" stroke-width="1"/>
<text transform="translate(634.14,337) scale(0.9,1.0)" font-size="8.7" text-anchor="middle" fill="#151515" font-weight="normal" >150</text>
<line x1="669.88" y1="326.5" x2="669.88" y2="329" stroke="#404040" stroke-width="1"/>
<text transform="translate(669.88,337) scale(0.9,1.0)" font-size="8.7" text-anchor="middle" fill="#151515" font-weight="normal" >175</text>
<line x1="705.62" y1="326.5" x2="705.62" y2="329" stroke="#404040" stroke-width="1"/>
<text transform="translate(705.62,337) scale(0.9,1.0)" font-size="8.7" text-anchor="middle" fill="#151515" font-weight="normal" >200</text>
<line x1="741.36" y1="326.5" x2="741.36" y2="329" stroke="#404040" stroke-width="1"/>
<text transform="translate(741.36,337) scale(0.9,1.0)" font-size="8.7" text-anchor="middle" fill="#151515" font-weight="normal" >225</text>
<line x1="777.1" y1="326.5" x2="777.1" y2="329" stroke="#404040" stroke-width="1"/>
<text transform="translate(777.1,337) scale(0.9,1.0)" font-size="8.7" text-anchor="middle" fill="#151515" font-weight="normal" >250</text>
<text transform="translate(598.5,351) scale(1.0,1.12)" font-size="9.9" text-anchor="middle" fill="#151515" font-weight="normal" >Time (h)</text>
<text transform="translate(400.5,255.5) rotate(-90)" font-size="9.9" text-anchor="middle" fill="#151515">Slope of flow rate (ccm/h)</text>
<line x1="483.1" y1="188.2" x2="498" y2="188.2" stroke="#111" stroke-width="1.15"/>
<text transform="translate(503.1,190.2) scale(1.0,1.1)" font-size="6.6" text-anchor="start" fill="#151515" font-weight="normal" >Without ergosterol and Tween 80</text>
<line x1="613.8" y1="188.1" x2="628.9" y2="188.1" stroke="#5c64d6" stroke-width="1.15"/>
<text transform="translate(634.1,190.1) scale(1.0,1.1)" font-size="6.6" text-anchor="start" fill="#151515" font-weight="normal" >With ergosterol and Tween 80</text>
<text x="435.6" y="200.8" font-size="6.9" text-anchor="middle" fill="#111" font-weight="bold" >1</text>
<text x="456" y="200.8" font-size="6.9" text-anchor="middle" fill="#111" font-weight="bold" >2</text>
<text x="468.2" y="200.8" font-size="6.9" text-anchor="middle" fill="#111" font-weight="bold" >3</text>
<line x1="466.1" y1="201.6" x2="470.3" y2="201.6" stroke="#333" stroke-width="0.8"/>
<text x="484.3" y="200.8" font-size="6.9" text-anchor="middle" fill="#111" font-weight="bold" >4</text>
<line x1="482.2" y1="201.6" x2="486.4" y2="201.6" stroke="#333" stroke-width="0.8"/>
<text x="498" y="200.8" font-size="6.9" text-anchor="middle" fill="#6464d4" font-weight="bold" >5</text>
<text x="509.1" y="200.8" font-size="6.9" text-anchor="middle" fill="#6464d4" font-weight="bold" >6</text>
<text x="518.7" y="200.8" font-size="6.9" text-anchor="middle" fill="#6464d4" font-weight="bold" >7</text>
<text x="527.2" y="200.8" font-size="6.9" text-anchor="middle" fill="#6464d4" font-weight="bold" >8</text>
<text x="538.2" y="200.8" font-size="6.9" text-anchor="middle" fill="#111" font-weight="bold" >9</text>
<text x="549" y="200.8" font-size="6.9" text-anchor="middle" fill="#111" font-weight="bold" >10</text>
<text x="560.5" y="200.8" font-size="6.9" text-anchor="middle" fill="#111" font-weight="bold" >11</text>
<text x="572" y="200.8" font-size="6.9" text-anchor="middle" fill="#111" font-weight="bold" >12</text>
<line x1="567.95" y1="201.6" x2="576.05" y2="201.6" stroke="#333" stroke-width="0.8"/>
<text x="584.8" y="200.8" font-size="6.9" text-anchor="middle" fill="#111" font-weight="bold" >13</text>
<line x1="580.75" y1="201.6" x2="588.85" y2="201.6" stroke="#333" stroke-width="0.8"/>
<text x="599.4" y="200.8" font-size="6.9" text-anchor="middle" fill="#111" font-weight="bold" >14</text>
<line x1="595.35" y1="201.6" x2="603.45" y2="201.6" stroke="#333" stroke-width="0.8"/>
<text x="621.7" y="200.8" font-size="6.9" text-anchor="middle" fill="#6464d4" font-weight="bold" >16</text>
<text x="632.1" y="200.8" font-size="6.9" text-anchor="middle" fill="#6464d4" font-weight="bold" >17</text>
<text x="643.2" y="200.8" font-size="6.9" text-anchor="middle" fill="#6464d4" font-weight="bold" >18</text>
<text x="654.4" y="200.8" font-size="6.9" text-anchor="middle" fill="#111" font-weight="bold" >19</text>
<text x="664.8" y="200.8" font-size="6.9" text-anchor="middle" fill="#111" font-weight="bold" >20</text>
<text x="675.4" y="200.8" font-size="6.9" text-anchor="middle" fill="#111" font-weight="bold" >21</text>
<line x1="671.35" y1="201.6" x2="679.45" y2="201.6" stroke="#333" stroke-width="0.8"/>
<text x="688.5" y="200.8" font-size="6.9" text-anchor="middle" fill="#111" font-weight="bold" >22</text>
<line x1="684.45" y1="201.6" x2="692.55" y2="201.6" stroke="#333" stroke-width="0.8"/>
<text x="702.1" y="200.8" font-size="6.9" text-anchor="middle" fill="#111" font-weight="bold" >23</text>
<line x1="698.05" y1="201.6" x2="706.15" y2="201.6" stroke="#333" stroke-width="0.8"/>
<text x="716.2" y="200.8" font-size="6.9" text-anchor="middle" fill="#111" font-weight="bold" >24</text>
<line x1="712.15" y1="201.6" x2="720.25" y2="201.6" stroke="#333" stroke-width="0.8"/>
<text x="730.3" y="200.8" font-size="6.9" text-anchor="middle" fill="#6464d4" font-weight="bold" >25</text>
<text x="743.5" y="200.8" font-size="6.9" text-anchor="middle" fill="#6464d4" font-weight="bold" >26</text>
<text x="753.9" y="200.8" font-size="6.9" text-anchor="middle" fill="#6464d4" font-weight="bold" >27</text>
<text x="764.5" y="200.8" font-size="6.9" text-anchor="middle" fill="#6464d4" font-weight="bold" >28</text>
<path d="M420.3,238.64 L420.52,230.59 L420.74,236 L420.96,230.82 L421.18,234.66 L421.4,228 L421.62,236.7 L421.84,229.99 L422.06,236.05 L422.28,226.19 L422.5,234.61 L422.72,218.95 L422.94,235.46 L423.16,230.82 L423.38,235.52 L423.6,230.7 L423.82,236.22 L424.04,228.29 L424.26,234.41 L424.48,229.48 L424.7,236.85 L424.92,224.4 L425.14,235.67 L425.36,228.06 L425.58,235.28 L425.8,224.93 L426.02,240.43 L426.24,226.47 L426.46,231.55 L426.68,226.34 L426.9,235.09 L427.12,227.44 L427.34,232.65 L427.56,225.7 L427.78,233.95 L428,225.76 L428.22,238.94 L428.44,223.95 L428.66,229.61 L428.88,221.78 L429.1,230.34 L429.32,223.73 L429.54,228.87 L429.76,220.75 L429.98,231.07 L430.2,213.99 L430.42,229.67 L430.64,225.11 L430.86,237.28 L431.08,222.34 L431.3,229.07 L431.52,223.26 L431.74,232.85 L431.96,222.19 L432.18,229.98 L432.4,224.52 L432.62,231.62 L432.84,225.44 L433.06,233.68 L433.28,227.24 L433.5,234.96 L433.72,224.34 L433.94,233.66 L434.16,224.76 L434.38,234.18 L434.6,225.56 L434.82,233.87 L435.04,227.71 L435.26,237.12 L435.48,226.22 L435.7,233.75 L435.92,225.87 L436.14,235.07 L436.36,227.82 L436.58,242.94 L436.8,224.04 L437.02,239.23 L437.24,226.81 L437.46,238.65 L437.68,220.07 L437.9,236.12 L438.12,230.51 L438.34,239.58 L438.56,230.78 L438.78,237.28 L439,230.74 L439.22,238.48 L439.44,229.33 L439.66,237.93 L439.88,230.09 L440.1,236.22 L440.32,231.88 L440.54,237.62 L440.76,224.69 L440.98,239.89 L441.2,229.9 L441.42,236.81 L441.64,230.55 L441.86,238.97 L442.08,231.41 L442.3,237.12 L442.52,231.15 L442.74,236.18 L442.96,228.86 L443.18,239.01 L443.4,231.86 L443.62,237.81 L443.84,224.24 L444.06,244.59 L444.28,231.3 L444.5,237.11 L444.72,228.82 L444.94,237.44 L445.16,231.97 L445.38,239.87 L445.6,229.74 L445.82,240.6 L446.04,230.16 L446.26,240.94 L446.48,229.5 L446.7,249.32 L446.92,231.27 L447.14,242.07 L447.36,232.23 L447.58,241.74 L447.8,232.54 L448.02,239.79 L448.24,233.1 L448.46,240.4 L448.68,233.07 L448.9,241.99 L449.12,232.59 L449.34,239.39 L449.56,232.06 L449.78,238.44 L450,233.44 L450.22,242.31 L450.44,234.17 L450.66,247.04 L450.88,232.49 L451.1,242.98 L451.32,232.75 L451.9,252 L451.9,288.7 L452.4,245" fill="none" stroke="#111" stroke-width="1.0" stroke-linejoin="round" />
<path d="M452.5,243 L452.9,229 L453.1,229.58 L453.55,221.63 L454,227.67 L454.45,222.53 L454.9,228.49 L455.35,222.97 L455.8,225.92 L456.25,219.26 L456.7,228.13 L457.15,214 L457.6,231.05 L458.05,224.06 L458.5,230.97 L458.95,226.12 L459.4,235.84 L459.85,227.83 L460.3,238.82 L460.75,229.1 L461.2,235.88 L461.65,233.76 L462.1,237.21 L462.55,234.61 L463,238.97 L463.45,239.68 L463.9,243.74 L464.35,246.17 L464.8,254.99 L464.8,252" fill="none" stroke="#111" stroke-width="1.1" stroke-linejoin="round" />
<path d="M464.5,249 L465.1,270.9 L465.7,244" fill="none" stroke="#555" stroke-width="0.7" stroke-linejoin="round" />
<path d="M465.6,243 L466,229 L466.2,230.92 L466.65,223.53 L467.1,228.34 L467.55,218.4 L468,230.97 L468.45,227.29 L468.9,233.8 L469.35,229.2 L469.8,234.24 L470.25,228.06 L470.7,227.93 L471.15,230.64 L471.6,235.52 L472.05,231.81 L472.5,239.51 L472.95,232.19 L473.4,231.84 L473.85,231.71 L474.3,238.56 L474.75,240.18 L475.2,239.64 L475.65,233.85 L476.1,238.72 L476.55,234.5 L477,242.22 L477.45,239.45 L477.9,245.23 L478.35,245.45 L478.8,256.84 L478.8,254" fill="none" stroke="#111" stroke-width="1.1" stroke-linejoin="round" />
<path d="M478.5,251 L479.1,266 L479.7,246" fill="none" stroke="#555" stroke-width="0.7" stroke-linejoin="round" />
<path d="M481.8,243 L482.2,229 L482.4,227.59 L482.85,224.41 L483.3,227.21 L483.75,216.9 L484.2,229.1 L484.65,227.21 L485.1,234.17 L485.55,228.74 L486,233.63 L486.45,231.87 L486.9,235.1 L487.35,229.01 L487.8,235.65 L488.25,233.26 L488.7,239.84 L489.15,234.05 L489.6,240.15 L490.05,230.45 L490.5,240.04 L490.95,236.15 L491.4,238.37 L491.85,237.11 L492.3,241.65 L492.75,240.32 L493.2,245.03 L493.6,247" fill="none" stroke="#111" stroke-width="1.1" stroke-linejoin="round" />
<path d="M493.3,244 L493.9,252 L494.5,239" fill="none" stroke="#555" stroke-width="0.7" stroke-linejoin="round" />
<path d="M495.3,250 L495.7,229 L495.9,226.62 L496.35,221.18 L496.8,228.24 L497.25,218.45 L497.7,223.53 L498.15,219.63 L498.6,224.54 L499.05,210 L499.5,210 L499.95,223.42 L500.4,232.39 L500.85,231.33 L501.3,238.29 L501.75,233.29 L502.2,238.64 L502.65,233.79 L503.1,234.29 L503.55,238.3 L504,249.47 L504.1,250" fill="none" stroke="#5c64d6" stroke-width="1.1" stroke-linejoin="round" />
<path d="M503.8,247 L504.4,286.8 L505,242" fill="none" stroke="#7080e0" stroke-width="0.7" stroke-linejoin="round" />
<path d="M505.6,243 L506,229 L506.2,229.99 L506.65,219.61 L507.1,227.65 L507.55,221.84 L508,226.31 L508.45,222.98 L508.9,221.32 L509.35,210.6 L509.8,210.6 L510.25,221.25 L510.7,235.35 L511.15,229.94 L511.6,230.59 L512.05,231.78 L512.5,235.92 L512.95,237.14 L513.4,237.99 L513.85,237.68 L514.3,246.42 L514.7,252" fill="none" stroke="#5c64d6" stroke-width="1.1" stroke-linejoin="round" />
<path d="M514.4,249 L515,308 L515.6,244" fill="none" stroke="#7080e0" stroke-width="0.7" stroke-linejoin="round" />
<path d="M515.8,243 L516.2,229 L516.4,230.61 L516.85,221.31 L517.3,227.29 L517.75,219.21 L518.2,230.02 L518.65,219.42 L519.1,227.33 L519.55,214.8 L520,228.11 L520.45,223.63 L520.9,232.14 L521.35,228.53 L521.8,236.59 L522.25,233.32 L522.7,234.44 L523.15,236.28 L523.6,243.73 L524,252" fill="none" stroke="#5c64d6" stroke-width="1.1" stroke-linejoin="round" />
<path d="M523.7,249 L524.3,318.6 L524.9,244" fill="none" stroke="#7080e0" stroke-width="0.7" stroke-linejoin="round" />
<path d="M525.6,243 L526,229 L526.2,230.69 L526.65,224.23 L527.1,228.64 L527.55,219.29 L528,226.45 L528.45,222.86 L528.9,225.69 L529.35,219.59 L529.8,223.8 L530.25,214 L530.7,231.24 L531.15,230.76 L531.6,234.75 L532.05,234.17 L532.5,236.97 L532.95,235.68 L533.4,242.32 L533.8,252" fill="none" stroke="#5c64d6" stroke-width="1.1" stroke-linejoin="round" />
<path d="M533.5,249 L534.1,319.6 L534.7,244" fill="none" stroke="#7080e0" stroke-width="0.7" stroke-linejoin="round" />
<path d="M535.5,243 L535.9,229 L536.1,228.72 L536.55,231.13 L537,229.96 L537.45,220.51 L537.9,227.93 L538.35,220.84 L538.8,224.83 L539.25,214.8 L539.7,228.98 L540.15,222.69 L540.6,233.37 L541.05,236.86 L541.5,238.9 L541.95,233.88 L542.4,238.74 L542.85,235.85 L543.3,240.61 L543.75,238.49 L544.2,248.91 L544.4,250" fill="none" stroke="#111" stroke-width="1.1" stroke-linejoin="round" />
<path d="M544.1,247 L544.7,317.5 L545.3,242" fill="none" stroke="#555" stroke-width="0.7" stroke-linejoin="round" />
<path d="M545.2,243 L545.6,229 L545.8,228.96 L546.25,223.83 L546.7,223.3 L547.15,221.69 L547.6,229.57 L548.05,219.23 L548.5,227.73 L548.95,222.25 L549.4,216 L549.85,226.29 L550.3,236.23 L550.75,231.9 L551.2,234.77 L551.65,234.04 L552.1,238.34 L552.55,234.61 L553,239.64 L553.45,236.81 L553.9,245.17 L554.3,252" fill="none" stroke="#111" stroke-width="1.1" stroke-linejoin="round" />
<path d="M554,249 L554.6,281.5 L555.2,244" fill="none" stroke="#555" stroke-width="0.7" stroke-linejoin="round" />
<path d="M555.3,243 L555.7,229 L555.9,231.24 L556.35,224.41 L556.8,227.9 L557.25,222.21 L557.7,224.7 L558.15,220.41 L558.6,228.24 L559.05,216.32 L559.5,213.6 L559.95,224.08 L560.4,231.61 L560.85,227.4 L561.3,235.57 L561.75,231.33 L562.2,236.72 L562.65,232.46 L563.1,236.31 L563.55,235.04 L564,238.97 L564.45,236.21 L564.9,242.6 L565.35,245.77 L565.5,252" fill="none" stroke="#111" stroke-width="1.1" stroke-linejoin="round" />
<path d="M565.2,249 L565.8,272 L566.4,244" fill="none" stroke="#555" stroke-width="0.7" stroke-linejoin="round" />
<path d="M566.6,243 L567,229 L567.2,227.56 L567.65,224.6 L568.1,229.39 L568.55,222.69 L569,227.09 L569.45,224.27 L569.9,228.59 L570.35,222.03 L570.8,227.18 L571.25,216 L571.7,229.77 L572.15,220.94 L572.6,229.51 L573.05,227.83 L573.5,237.8 L573.95,227.89 L574.4,234.97 L574.85,235.72 L575.3,235.86 L575.75,230.59 L576.2,238.65 L576.65,232.99 L577.1,239.89 L577.55,236.4 L578,239.21 L578.45,236.77 L578.9,243.42 L579.35,245.61 L579.7,254" fill="none" stroke="#111" stroke-width="1.1" stroke-linejoin="round" />
<path d="M579.4,251 L580,270.3 L580.6,246" fill="none" stroke="#555" stroke-width="0.7" stroke-linejoin="round" />
<path d="M580.6,243 L581,229 L581.2,225.78 L581.65,224 L582.1,228.83 L582.55,217.47 L583,223.88 L583.45,218.37 L583.9,211.9 L584.35,211.9 L584.8,228.37 L585.25,222.36 L585.7,232.36 L586.15,229.33 L586.6,235.54 L587.05,227.77 L587.5,233.57 L587.95,232.54 L588.4,239.49 L588.85,234.22 L589.3,240.2 L589.75,234.19 L590.2,237.06 L590.65,235.21 L591.1,239.53 L591.55,236.43 L592,242.03 L592.45,241.1 L592.9,247.26 L593.35,249.54 L593.5,254" fill="none" stroke="#111" stroke-width="1.1" stroke-linejoin="round" />
<path d="M593.2,251 L593.8,270.3 L594.4,246" fill="none" stroke="#555" stroke-width="0.7" stroke-linejoin="round" />
<path d="M594.2,243 L594.6,229 L594.8,225.23 L595.25,229.04 L595.7,230.91 L596.15,223.62 L596.6,229.78 L597.05,226.3 L597.5,220.3 L597.95,227.06 L598.4,234.07 L598.85,225.27 L599.3,234.5 L599.75,229.29 L600.2,237.07 L600.65,228.11 L601.1,237.38 L601.55,229.96 L602,235.9 L602.45,234.77 L602.9,236.61 L603.35,231.86 L603.8,237.03 L604.25,233.49 L604.7,236.54 L605.15,234.9 L605.6,239.21 L606.05,239.89 L606.5,239.27 L606.95,236.84 L607.4,241.88 L607.85,240.58 L608.3,246.55 L608.6,248" fill="none" stroke="#111" stroke-width="1.1" stroke-linejoin="round" />
<path d="M608.3,245 L608.9,250 L609.5,240" fill="none" stroke="#555" stroke-width="0.7" stroke-linejoin="round" />
<path d="M621.4,250 L621.8,229 L622,218.6 L622.45,218.6 L622.9,230.23 L623.35,225.23 L623.8,231.3 L624.25,231.22 L624.7,235.45 L625.15,233.32 L625.6,240.84 L626.05,235.55 L626.5,240.72 L626.95,237.82 L627.4,244.6 L627.85,246.47 L627.9,248" fill="none" stroke="#5c64d6" stroke-width="1.1" stroke-linejoin="round" />
<path d="M627.6,245 L628.2,270.3 L628.8,240" fill="none" stroke="#7080e0" stroke-width="0.7" stroke-linejoin="round" />
<path d="M629.8,243 L630.2,229 L630.4,229.79 L630.85,222.06 L631.3,227.09 L631.75,220.58 L632.2,227.33 L632.65,225.73 L633.1,224.43 L633.55,215.3 L634,229.02 L634.45,231.08 L634.9,234.85 L635.35,232.1 L635.8,238.07 L636.25,233.97 L636.7,236.24 L637.15,235.82 L637.6,238.99 L638.05,236.47 L638.5,246.13 L638.9,252" fill="none" stroke="#5c64d6" stroke-width="1.1" stroke-linejoin="round" />
<path d="M638.6,249 L639.2,302.7 L639.8,244" fill="none" stroke="#7080e0" stroke-width="0.7" stroke-linejoin="round" />
<path d="M639.9,243 L640.3,229 L640.5,228.43 L640.95,223.91 L641.4,229.77 L641.85,222.49 L642.3,229.86 L642.75,221.53 L643.2,228.52 L643.65,221.94 L644.1,213.6 L644.55,222.54 L645,230.76 L645.45,234.09 L645.9,234.1 L646.35,232.47 L646.8,238.94 L647.25,235.95 L647.7,240.48 L648.15,246.07 L648.6,252" fill="none" stroke="#5c64d6" stroke-width="1.1" stroke-linejoin="round" />
<path d="M648.3,249 L648.9,312.2 L649.5,244" fill="none" stroke="#7080e0" stroke-width="0.7" stroke-linejoin="round" />
<path d="M649.6,243 L650,229 L650.2,227.91 L650.65,222.5 L651.1,227.33 L651.55,221.56 L652,229.36 L652.45,223.43 L652.9,225.34 L653.35,221.52 L653.8,213.2 L654.25,213.2 L654.7,228.54 L655.15,229.48 L655.6,234.51 L656.05,231.23 L656.5,236.28 L656.95,235.1 L657.4,237.96 L657.85,235.47 L658.3,247.33 L658.6,252" fill="none" stroke="#111" stroke-width="1.1" stroke-linejoin="round" />
<path d="M658.3,249 L658.9,311.1 L659.5,244" fill="none" stroke="#555" stroke-width="0.7" stroke-linejoin="round" />
<path d="M659.6,243 L660,229 L660.2,228.53 L660.65,223.27 L661.1,227.28 L661.55,222.06 L662,229.09 L662.45,223.71 L662.9,227.27 L663.35,219.41 L663.8,229.58 L664.25,216.1 L664.7,227.53 L665.15,229.07 L665.6,233.24 L666.05,229.17 L666.5,235.73 L666.95,232.73 L667.4,236.8 L667.85,234.44 L668.3,239.08 L668.75,243.16 L669.1,252" fill="none" stroke="#111" stroke-width="1.1" stroke-linejoin="round" />
<path d="M668.8,249 L669.4,280.4 L670,244" fill="none" stroke="#555" stroke-width="0.7" stroke-linejoin="round" />
<path d="M670.2,243 L670.6,229 L670.8,221.67 L671.25,224.43 L671.7,227.32 L672.15,225.06 L672.6,227.25 L673.05,224.59 L673.5,228.69 L673.95,223.02 L674.4,217 L674.85,217 L675.3,232.67 L675.75,227.23 L676.2,230.47 L676.65,229.02 L677.1,236.36 L677.55,233.2 L678,238.24 L678.45,232.83 L678.9,239 L679.35,233.63 L679.8,238.21 L680.25,234.14 L680.7,240.14 L681.15,241.35 L681.6,248.65 L681.9,254" fill="none" stroke="#111" stroke-width="1.1" stroke-linejoin="round" />
<path d="M681.6,251 L682.2,269.8 L682.8,246" fill="none" stroke="#555" stroke-width="0.7" stroke-linejoin="round" />
<path d="M682.5,243 L682.9,229 L683.1,231.83 L683.55,221.9 L684,226.79 L684.45,223.59 L684.9,228.75 L685.35,222.84 L685.8,225 L686.25,218.86 L686.7,213.6 L687.15,218.09 L687.6,229.06 L688.05,225.87 L688.5,234.17 L688.95,227.4 L689.4,235.78 L689.85,228.87 L690.3,237.46 L690.75,232.55 L691.2,236.48 L691.65,232.21 L692.1,237.73 L692.55,235.3 L693,240.12 L693.45,235.42 L693.9,240.86 L694.35,238.64 L694.8,244.37 L695.25,244.33 L695.6,252" fill="none" stroke="#111" stroke-width="1.1" stroke-linejoin="round" />
<path d="M695.3,249 L695.9,270.3 L696.5,244" fill="none" stroke="#555" stroke-width="0.7" stroke-linejoin="round" />
<path d="M696.1,243 L696.5,229 L696.7,228.19 L697.15,221.03 L697.6,226.68 L698.05,223.55 L698.5,227.22 L698.95,221.22 L699.4,224.89 L699.85,217.71 L700.3,215.3 L700.75,219.9 L701.2,227.35 L701.65,225.26 L702.1,230.75 L702.55,228.31 L703,232.4 L703.45,231.61 L703.9,237.28 L704.35,231.19 L704.8,238.83 L705.25,230.3 L705.7,236.12 L706.15,230.29 L706.6,233.27 L707.05,234.53 L707.5,237.69 L707.95,234.51 L708.4,238.76 L708.85,235.63 L709.3,239.47 L709.75,237.78 L710.2,245.62 L710.65,246.55 L711.1,252" fill="none" stroke="#111" stroke-width="1.1" stroke-linejoin="round" />
<path d="M710.8,249 L711.4,275.1 L712,244" fill="none" stroke="#555" stroke-width="0.7" stroke-linejoin="round" />
<path d="M711.6,243 L712,229 L712.2,229.39 L712.65,223.73 L713.1,227.05 L713.55,223.81 L714,231.78 L714.45,218.6 L714.9,218.6 L715.35,224.63 L715.8,232.82 L716.25,231.69 L716.7,233.88 L717.15,226.59 L717.6,233.63 L718.05,227.54 L718.5,233.72 L718.95,234.55 L719.4,238.12 L719.85,233.58 L720.3,237.3 L720.75,229.06 L721.2,240.74 L721.65,233.69 L722.1,236.64 L722.55,235.56 L723,238.47 L723.45,234.54 L723.9,240 L724.35,238.71 L724.8,244.14 L725.25,240.71 L725.7,244.04 L726,250" fill="none" stroke="#111" stroke-width="1.1" stroke-linejoin="round" />
<path d="M725.7,247 L726.3,263.5 L726.9,242" fill="none" stroke="#555" stroke-width="0.7" stroke-linejoin="round" />
<path d="M727.5,250 L727.9,229 L728.1,228.6 L728.55,222.46 L729,227.31 L729.45,222.86 L729.9,223.89 L730.35,219.72 L730.8,225.95 L731.25,213.6 L731.7,226.01 L732.15,222.84 L732.6,234.28 L733.05,229.95 L733.5,234.35 L733.95,237.77 L734.4,236.14 L734.85,235.67 L735.3,239.59 L735.75,237.24 L736.2,246.82 L736.5,250" fill="none" stroke="#5c64d6" stroke-width="1.1" stroke-linejoin="round" />
<path d="M736.2,247 L736.8,282.5 L737.4,242" fill="none" stroke="#7080e0" stroke-width="0.7" stroke-linejoin="round" />
<path d="M738.3,243 L738.7,229 L738.9,228.44 L739.35,225.77 L739.8,228.33 L740.25,225.97 L740.7,232.49 L741.15,222.67 L741.6,232.14 L742.05,230.23 L742.5,218.6 L742.95,226.96 L743.4,234.45 L743.85,228.87 L744.3,238.81 L744.75,231.26 L745.2,238.05 L745.65,238.1 L746.1,239.42 L746.55,236.02 L747,243.86 L747.45,249.07 L747.5,252" fill="none" stroke="#5c64d6" stroke-width="1.1" stroke-linejoin="round" />
<path d="M747.2,249 L747.8,304.8 L748.4,244" fill="none" stroke="#7080e0" stroke-width="0.7" stroke-linejoin="round" />
<path d="M748.9,243 L749.3,229 L749.5,227.27 L749.95,224.81 L750.4,231.27 L750.85,221.48 L751.3,226.55 L751.75,220.62 L752.2,214.9 L752.65,214.9 L753.1,230.18 L753.55,228.63 L754,237.58 L754.45,231.45 L754.9,234.39 L755.35,231.37 L755.8,238.94 L756.25,236.02 L756.7,239.07 L757.15,235.79 L757.6,245.55 L758.05,250.34 L758.1,252" fill="none" stroke="#5c64d6" stroke-width="1.1" stroke-linejoin="round" />
<path d="M757.8,249 L758.4,311.1 L759,244" fill="none" stroke="#7080e0" stroke-width="0.7" stroke-linejoin="round" />
<path d="M759,243 L759.4,229 L759.6,226.81 L760.05,220.39 L760.5,223.28 L760.95,222.77 L761.4,223.9 L761.85,219.75 L762.3,225.37 L762.75,219.24 L763.2,211.9 L763.65,220.54 L764.1,231.81 L764.55,227.46 L765,236.96 L765.45,234.23 L765.9,236.8 L766.35,235.12 L766.8,239.18 L767.25,242.7 L767.6,252" fill="none" stroke="#5c64d6" stroke-width="1.1" stroke-linejoin="round" />
<path d="M767.3,249 L767.9,314.3 L768.5,244" fill="none" stroke="#7080e0" stroke-width="0.7" stroke-linejoin="round" />
</svg></body></html>
